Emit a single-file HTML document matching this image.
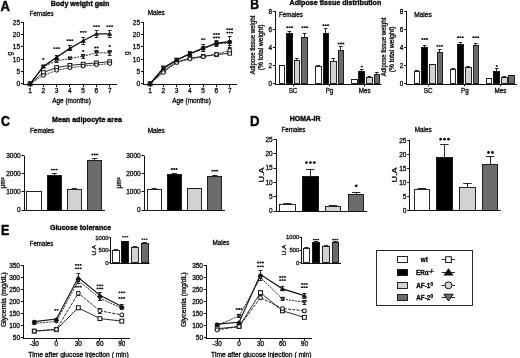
<!DOCTYPE html>
<html><head><meta charset="utf-8"><style>
html,body{margin:0;padding:0;background:#fff;}
body{width:520px;height:358px;overflow:hidden;}
svg{display:block;font-family:"Liberation Sans",sans-serif;will-change:transform;}
</style></head><body>
<svg width="520" height="358" viewBox="0 0 520 358">
<rect width="520" height="358" fill="#fff"/>
<text x="0.6" y="10.5" font-size="14.8" font-weight="bold" textLength="9.4" lengthAdjust="spacingAndGlyphs" stroke="#111" stroke-width="0.5">A</text>
<text x="250.2" y="9.3" font-size="14.8" font-weight="bold" textLength="8.8" lengthAdjust="spacingAndGlyphs" stroke="#111" stroke-width="0.5">B</text>
<text x="0.9" y="126.2" font-size="14.8" font-weight="bold" textLength="8.9" lengthAdjust="spacingAndGlyphs" stroke="#111" stroke-width="0.5">C</text>
<text x="249.9" y="126.3" font-size="14.8" font-weight="bold" textLength="9.5" lengthAdjust="spacingAndGlyphs" stroke="#111" stroke-width="0.5">D</text>
<text x="0.9" y="234.9" font-size="14.8" font-weight="bold" textLength="8.3" lengthAdjust="spacingAndGlyphs" stroke="#111" stroke-width="0.5">E</text>
<text x="50.7" y="6.1" font-size="7.5" font-weight="bold" textLength="58.6" lengthAdjust="spacingAndGlyphs" stroke="#111" stroke-width="0.4">Body weight gain</text>
<text x="289.6" y="5" font-size="7.5" font-weight="bold" textLength="91.7" lengthAdjust="spacingAndGlyphs" stroke="#111" stroke-width="0.4">Adipose tissue distribution</text>
<text x="52" y="122.3" font-size="7.5" font-weight="bold" textLength="70" lengthAdjust="spacingAndGlyphs" stroke="#111" stroke-width="0.4">Mean adipocyte area</text>
<text x="289.8" y="121.3" font-size="7.5" font-weight="bold" textLength="30.7" lengthAdjust="spacingAndGlyphs" stroke="#111" stroke-width="0.4">HOMA-IR</text>
<text x="49.9" y="229.7" font-size="7.5" font-weight="bold" textLength="61.3" lengthAdjust="spacingAndGlyphs" stroke="#111" stroke-width="0.4">Glucose tolerance</text>
<text x="29.7" y="16.07" font-size="6.3" textLength="23.9" lengthAdjust="spacingAndGlyphs" stroke="#111" stroke-width="0.3">Females</text>
<text x="147.7" y="15.37" font-size="6.3" textLength="17.1" lengthAdjust="spacingAndGlyphs" stroke="#111" stroke-width="0.3">Males</text>
<text x="279" y="16.87" font-size="6.3" textLength="23.9" lengthAdjust="spacingAndGlyphs" stroke="#111" stroke-width="0.3">Females</text>
<text x="414.2" y="16.87" font-size="6.3" textLength="17.6" lengthAdjust="spacingAndGlyphs" stroke="#111" stroke-width="0.3">Males</text>
<text x="30" y="133.27" font-size="6.3" textLength="24.3" lengthAdjust="spacingAndGlyphs" stroke="#111" stroke-width="0.3">Females</text>
<text x="147.7" y="132.67" font-size="6.3" textLength="17.1" lengthAdjust="spacingAndGlyphs" stroke="#111" stroke-width="0.3">Males</text>
<text x="281.5" y="132.17" font-size="6.3" textLength="23.9" lengthAdjust="spacingAndGlyphs" stroke="#111" stroke-width="0.3">Females</text>
<text x="414.8" y="132.37" font-size="6.3" textLength="16.8" lengthAdjust="spacingAndGlyphs" stroke="#111" stroke-width="0.3">Males</text>
<text x="29.7" y="245.87" font-size="6.3" textLength="23.6" lengthAdjust="spacingAndGlyphs" stroke="#111" stroke-width="0.3">Females</text>
<text x="212.5" y="245.47" font-size="6.3" textLength="16.9" lengthAdjust="spacingAndGlyphs" stroke="#111" stroke-width="0.3">Males</text>
<line x1="23.5" y1="22" x2="23.5" y2="84.3" stroke="#111" stroke-width="1"/>
<line x1="20.8" y1="83.5" x2="23.3" y2="83.5" stroke="#111" stroke-width="1"/>
<text x="20" y="86.14" font-size="6.5" text-anchor="end" stroke="#111" stroke-width="0.3">0</text>
<line x1="20.8" y1="71.5" x2="23.3" y2="71.5" stroke="#111" stroke-width="1"/>
<text x="20" y="73.84" font-size="6.5" text-anchor="end" stroke="#111" stroke-width="0.3">5</text>
<line x1="20.8" y1="59.5" x2="23.3" y2="59.5" stroke="#111" stroke-width="1"/>
<text x="20" y="61.54" font-size="6.5" text-anchor="end" stroke="#111" stroke-width="0.3">10</text>
<line x1="20.8" y1="46.5" x2="23.3" y2="46.5" stroke="#111" stroke-width="1"/>
<text x="20" y="49.24" font-size="6.5" text-anchor="end" stroke="#111" stroke-width="0.3">15</text>
<line x1="20.8" y1="34.5" x2="23.3" y2="34.5" stroke="#111" stroke-width="1"/>
<text x="20" y="36.94" font-size="6.5" text-anchor="end" stroke="#111" stroke-width="0.3">20</text>
<line x1="20.8" y1="22.5" x2="23.3" y2="22.5" stroke="#111" stroke-width="1"/>
<text x="20" y="24.64" font-size="6.5" text-anchor="end" stroke="#111" stroke-width="0.3">25</text>
<line x1="22.8" y1="84.5" x2="117" y2="84.5" stroke="#111" stroke-width="1"/>
<line x1="30.5" y1="83.8" x2="30.5" y2="87" stroke="#111" stroke-width="1"/>
<text x="30.1" y="92.9" font-size="6.6" text-anchor="middle" stroke="#111" stroke-width="0.3">1</text>
<line x1="43.5" y1="83.8" x2="43.5" y2="87" stroke="#111" stroke-width="1"/>
<text x="43.37" y="92.9" font-size="6.6" text-anchor="middle" stroke="#111" stroke-width="0.3">2</text>
<line x1="56.5" y1="83.8" x2="56.5" y2="87" stroke="#111" stroke-width="1"/>
<text x="56.64" y="92.9" font-size="6.6" text-anchor="middle" stroke="#111" stroke-width="0.3">3</text>
<line x1="69.5" y1="83.8" x2="69.5" y2="87" stroke="#111" stroke-width="1"/>
<text x="69.91" y="92.9" font-size="6.6" text-anchor="middle" stroke="#111" stroke-width="0.3">4</text>
<line x1="83.5" y1="83.8" x2="83.5" y2="87" stroke="#111" stroke-width="1"/>
<text x="83.18" y="92.9" font-size="6.6" text-anchor="middle" stroke="#111" stroke-width="0.3">5</text>
<line x1="96.5" y1="83.8" x2="96.5" y2="87" stroke="#111" stroke-width="1"/>
<text x="96.45" y="92.9" font-size="6.6" text-anchor="middle" stroke="#111" stroke-width="0.3">6</text>
<line x1="109.5" y1="83.8" x2="109.5" y2="87" stroke="#111" stroke-width="1"/>
<text x="109.72" y="92.9" font-size="6.6" text-anchor="middle" stroke="#111" stroke-width="0.3">7</text>
<text x="71.55" y="102.6" font-size="6.7" text-anchor="middle" textLength="38.8" lengthAdjust="spacingAndGlyphs" stroke="#111" stroke-width="0.3">Age (months)</text>
<text x="11.9" y="53.6" font-size="6.4" text-anchor="middle" transform="rotate(-90 11.9 53.6)" stroke="#111" stroke-width="0.3">g</text>
<polyline points="30.1,83.8 43.37,72.48 56.64,67.56 69.91,65.35 83.18,64.12 96.45,62.89 109.72,61.66" fill="none" stroke="#111" stroke-width="0.9"/>
<polyline points="30.1,83.8 43.37,75.44 56.64,70.27 69.91,67.81 83.18,66.09 96.45,64.86 109.72,63.63" fill="none" stroke="#111" stroke-width="0.9" stroke-dasharray="2,1"/>
<polyline points="30.1,83.8 43.37,66.58 56.64,60.92 69.91,58.46 83.18,56.25 96.45,52.8 109.72,52.8" fill="none" stroke="#111" stroke-width="0.9" stroke-dasharray="2,1"/>
<polyline points="30.1,83.8 43.37,66.58 56.64,57.23 69.91,48.38 83.18,40.75 96.45,33.86 109.72,33.86" fill="none" stroke="#111" stroke-width="1.35"/>
<line x1="43.5" y1="71.5" x2="43.5" y2="73.47" stroke="#111" stroke-width="0.8"/>
<line x1="41.47" y1="71.5" x2="45.27" y2="71.5" stroke="#111" stroke-width="0.9"/>
<line x1="41.47" y1="73.5" x2="45.27" y2="73.5" stroke="#111" stroke-width="0.9"/>
<line x1="56.5" y1="66.58" x2="56.5" y2="68.55" stroke="#111" stroke-width="0.8"/>
<line x1="54.74" y1="66.5" x2="58.54" y2="66.5" stroke="#111" stroke-width="0.9"/>
<line x1="54.74" y1="68.5" x2="58.54" y2="68.5" stroke="#111" stroke-width="0.9"/>
<line x1="69.5" y1="64.37" x2="69.5" y2="66.33" stroke="#111" stroke-width="0.8"/>
<line x1="68.01" y1="64.5" x2="71.81" y2="64.5" stroke="#111" stroke-width="0.9"/>
<line x1="68.01" y1="66.5" x2="71.81" y2="66.5" stroke="#111" stroke-width="0.9"/>
<line x1="83.5" y1="63.14" x2="83.5" y2="65.1" stroke="#111" stroke-width="0.8"/>
<line x1="81.28" y1="63.5" x2="85.08" y2="63.5" stroke="#111" stroke-width="0.9"/>
<line x1="81.28" y1="65.5" x2="85.08" y2="65.5" stroke="#111" stroke-width="0.9"/>
<line x1="96.5" y1="61.66" x2="96.5" y2="64.12" stroke="#111" stroke-width="0.8"/>
<line x1="94.55" y1="61.5" x2="98.35" y2="61.5" stroke="#111" stroke-width="0.9"/>
<line x1="94.55" y1="64.5" x2="98.35" y2="64.5" stroke="#111" stroke-width="0.9"/>
<line x1="109.5" y1="60.43" x2="109.5" y2="62.89" stroke="#111" stroke-width="0.8"/>
<line x1="107.82" y1="60.5" x2="111.62" y2="60.5" stroke="#111" stroke-width="0.9"/>
<line x1="107.82" y1="62.5" x2="111.62" y2="62.5" stroke="#111" stroke-width="0.9"/>
<line x1="43.5" y1="74.45" x2="43.5" y2="76.42" stroke="#111" stroke-width="0.8"/>
<line x1="41.47" y1="74.5" x2="45.27" y2="74.5" stroke="#111" stroke-width="0.9"/>
<line x1="41.47" y1="76.5" x2="45.27" y2="76.5" stroke="#111" stroke-width="0.9"/>
<line x1="56.5" y1="69.29" x2="56.5" y2="71.25" stroke="#111" stroke-width="0.8"/>
<line x1="54.74" y1="69.5" x2="58.54" y2="69.5" stroke="#111" stroke-width="0.9"/>
<line x1="54.74" y1="71.5" x2="58.54" y2="71.5" stroke="#111" stroke-width="0.9"/>
<line x1="69.5" y1="66.83" x2="69.5" y2="68.79" stroke="#111" stroke-width="0.8"/>
<line x1="68.01" y1="66.5" x2="71.81" y2="66.5" stroke="#111" stroke-width="0.9"/>
<line x1="68.01" y1="68.5" x2="71.81" y2="68.5" stroke="#111" stroke-width="0.9"/>
<line x1="83.5" y1="65.1" x2="83.5" y2="67.07" stroke="#111" stroke-width="0.8"/>
<line x1="81.28" y1="65.5" x2="85.08" y2="65.5" stroke="#111" stroke-width="0.9"/>
<line x1="81.28" y1="67.5" x2="85.08" y2="67.5" stroke="#111" stroke-width="0.9"/>
<line x1="96.5" y1="63.87" x2="96.5" y2="65.84" stroke="#111" stroke-width="0.8"/>
<line x1="94.55" y1="63.5" x2="98.35" y2="63.5" stroke="#111" stroke-width="0.9"/>
<line x1="94.55" y1="65.5" x2="98.35" y2="65.5" stroke="#111" stroke-width="0.9"/>
<line x1="109.5" y1="62.64" x2="109.5" y2="64.61" stroke="#111" stroke-width="0.8"/>
<line x1="107.82" y1="62.5" x2="111.62" y2="62.5" stroke="#111" stroke-width="0.9"/>
<line x1="107.82" y1="64.5" x2="111.62" y2="64.5" stroke="#111" stroke-width="0.9"/>
<line x1="43.5" y1="65.35" x2="43.5" y2="67.81" stroke="#111" stroke-width="0.8"/>
<line x1="41.47" y1="65.5" x2="45.27" y2="65.5" stroke="#111" stroke-width="0.9"/>
<line x1="41.47" y1="67.5" x2="45.27" y2="67.5" stroke="#111" stroke-width="0.9"/>
<line x1="56.5" y1="59.69" x2="56.5" y2="62.15" stroke="#111" stroke-width="0.8"/>
<line x1="54.74" y1="59.5" x2="58.54" y2="59.5" stroke="#111" stroke-width="0.9"/>
<line x1="54.74" y1="62.5" x2="58.54" y2="62.5" stroke="#111" stroke-width="0.9"/>
<line x1="69.5" y1="57.23" x2="69.5" y2="59.69" stroke="#111" stroke-width="0.8"/>
<line x1="68.01" y1="57.5" x2="71.81" y2="57.5" stroke="#111" stroke-width="0.9"/>
<line x1="68.01" y1="59.5" x2="71.81" y2="59.5" stroke="#111" stroke-width="0.9"/>
<line x1="83.5" y1="54.28" x2="83.5" y2="58.22" stroke="#111" stroke-width="0.8"/>
<line x1="81.28" y1="54.5" x2="85.08" y2="54.5" stroke="#111" stroke-width="0.9"/>
<line x1="81.28" y1="58.5" x2="85.08" y2="58.5" stroke="#111" stroke-width="0.9"/>
<line x1="96.5" y1="50.59" x2="96.5" y2="55.02" stroke="#111" stroke-width="0.8"/>
<line x1="94.55" y1="50.5" x2="98.35" y2="50.5" stroke="#111" stroke-width="0.9"/>
<line x1="94.55" y1="55.5" x2="98.35" y2="55.5" stroke="#111" stroke-width="0.9"/>
<line x1="109.5" y1="50.59" x2="109.5" y2="55.02" stroke="#111" stroke-width="0.8"/>
<line x1="107.82" y1="50.5" x2="111.62" y2="50.5" stroke="#111" stroke-width="0.9"/>
<line x1="107.82" y1="55.5" x2="111.62" y2="55.5" stroke="#111" stroke-width="0.9"/>
<line x1="43.5" y1="65.35" x2="43.5" y2="67.81" stroke="#111" stroke-width="0.8"/>
<line x1="41.47" y1="65.5" x2="45.27" y2="65.5" stroke="#111" stroke-width="0.9"/>
<line x1="41.47" y1="67.5" x2="45.27" y2="67.5" stroke="#111" stroke-width="0.9"/>
<line x1="56.5" y1="55.02" x2="56.5" y2="59.45" stroke="#111" stroke-width="0.8"/>
<line x1="54.74" y1="55.5" x2="58.54" y2="55.5" stroke="#111" stroke-width="0.9"/>
<line x1="54.74" y1="59.5" x2="58.54" y2="59.5" stroke="#111" stroke-width="0.9"/>
<line x1="69.5" y1="45.92" x2="69.5" y2="50.84" stroke="#111" stroke-width="0.8"/>
<line x1="68.01" y1="45.5" x2="71.81" y2="45.5" stroke="#111" stroke-width="0.9"/>
<line x1="68.01" y1="50.5" x2="71.81" y2="50.5" stroke="#111" stroke-width="0.9"/>
<line x1="83.5" y1="37.31" x2="83.5" y2="44.19" stroke="#111" stroke-width="0.8"/>
<line x1="81.28" y1="37.5" x2="85.08" y2="37.5" stroke="#111" stroke-width="0.9"/>
<line x1="81.28" y1="44.5" x2="85.08" y2="44.5" stroke="#111" stroke-width="0.9"/>
<line x1="96.5" y1="30.42" x2="96.5" y2="37.31" stroke="#111" stroke-width="0.8"/>
<line x1="94.55" y1="30.5" x2="98.35" y2="30.5" stroke="#111" stroke-width="0.9"/>
<line x1="94.55" y1="37.5" x2="98.35" y2="37.5" stroke="#111" stroke-width="0.9"/>
<line x1="109.5" y1="30.42" x2="109.5" y2="37.31" stroke="#111" stroke-width="0.8"/>
<line x1="107.82" y1="30.5" x2="111.62" y2="30.5" stroke="#111" stroke-width="0.9"/>
<line x1="107.82" y1="37.5" x2="111.62" y2="37.5" stroke="#111" stroke-width="0.9"/>
<rect x="28.25" y="81.95" width="3.7" height="3.7" fill="#fff" stroke="#111" stroke-width="1"/>
<rect x="41.52" y="70.63" width="3.7" height="3.7" fill="#fff" stroke="#111" stroke-width="1"/>
<rect x="54.79" y="65.71" width="3.7" height="3.7" fill="#fff" stroke="#111" stroke-width="1"/>
<rect x="68.06" y="63.5" width="3.7" height="3.7" fill="#fff" stroke="#111" stroke-width="1"/>
<rect x="81.33" y="62.27" width="3.7" height="3.7" fill="#fff" stroke="#111" stroke-width="1"/>
<rect x="94.6" y="61.04" width="3.7" height="3.7" fill="#fff" stroke="#111" stroke-width="1"/>
<rect x="107.87" y="59.81" width="3.7" height="3.7" fill="#fff" stroke="#111" stroke-width="1"/>
<circle cx="30.1" cy="83.8" r="1.85" fill="#eee" stroke="#111" stroke-width="1"/>
<circle cx="43.37" cy="75.44" r="1.85" fill="#eee" stroke="#111" stroke-width="1"/>
<circle cx="56.64" cy="70.27" r="1.85" fill="#eee" stroke="#111" stroke-width="1"/>
<circle cx="69.91" cy="67.81" r="1.85" fill="#eee" stroke="#111" stroke-width="1"/>
<circle cx="83.18" cy="66.09" r="1.85" fill="#eee" stroke="#111" stroke-width="1"/>
<circle cx="96.45" cy="64.86" r="1.85" fill="#eee" stroke="#111" stroke-width="1"/>
<circle cx="109.72" cy="63.63" r="1.85" fill="#eee" stroke="#111" stroke-width="1"/>
<path d="M28.16 82.23L32.04 82.23L30.1 85.37Z" fill="#6b6b6b" stroke="#111" stroke-width="1"/>
<path d="M41.43 65.01L45.31 65.01L43.37 68.15Z" fill="#6b6b6b" stroke="#111" stroke-width="1"/>
<path d="M54.7 59.35L58.58 59.35L56.64 62.49Z" fill="#6b6b6b" stroke="#111" stroke-width="1"/>
<path d="M67.97 56.89L71.85 56.89L69.91 60.03Z" fill="#6b6b6b" stroke="#111" stroke-width="1"/>
<path d="M81.24 54.68L85.12 54.68L83.18 57.82Z" fill="#6b6b6b" stroke="#111" stroke-width="1"/>
<path d="M94.51 51.23L98.39 51.23L96.45 54.38Z" fill="#6b6b6b" stroke="#111" stroke-width="1"/>
<path d="M107.78 51.23L111.66 51.23L109.72 54.38Z" fill="#6b6b6b" stroke="#111" stroke-width="1"/>
<path d="M30.1 82.04L32.41 85.56L27.79 85.56Z" fill="#111" stroke="#111" stroke-width="0.5"/>
<path d="M43.37 64.82L45.68 68.34L41.06 68.34Z" fill="#111" stroke="#111" stroke-width="0.5"/>
<path d="M56.64 55.47L58.95 58.99L54.33 58.99Z" fill="#111" stroke="#111" stroke-width="0.5"/>
<path d="M69.91 46.62L72.22 50.13L67.6 50.13Z" fill="#111" stroke="#111" stroke-width="0.5"/>
<path d="M83.18 38.99L85.49 42.51L80.87 42.51Z" fill="#111" stroke="#111" stroke-width="0.5"/>
<path d="M96.45 32.1L98.76 35.62L94.14 35.62Z" fill="#111" stroke="#111" stroke-width="0.5"/>
<path d="M109.72 32.1L112.03 35.62L107.41 35.62Z" fill="#111" stroke="#111" stroke-width="0.5"/>
<ellipse cx="43.37" cy="59" rx="1.12" ry="0.9" fill="#111"/>
<ellipse cx="54.29" cy="48.1" rx="1.12" ry="0.9" fill="#111"/>
<ellipse cx="56.64" cy="48.1" rx="1.12" ry="0.9" fill="#111"/>
<ellipse cx="58.99" cy="48.1" rx="1.12" ry="0.9" fill="#111"/>
<ellipse cx="67.56" cy="40.2" rx="1.12" ry="0.9" fill="#111"/>
<ellipse cx="69.91" cy="40.2" rx="1.12" ry="0.9" fill="#111"/>
<ellipse cx="72.26" cy="40.2" rx="1.12" ry="0.9" fill="#111"/>
<ellipse cx="80.83" cy="31.8" rx="1.12" ry="0.9" fill="#111"/>
<ellipse cx="83.18" cy="31.8" rx="1.12" ry="0.9" fill="#111"/>
<ellipse cx="85.53" cy="31.8" rx="1.12" ry="0.9" fill="#111"/>
<ellipse cx="94.1" cy="26.1" rx="1.12" ry="0.9" fill="#111"/>
<ellipse cx="96.45" cy="26.1" rx="1.12" ry="0.9" fill="#111"/>
<ellipse cx="98.8" cy="26.1" rx="1.12" ry="0.9" fill="#111"/>
<ellipse cx="107.37" cy="26.1" rx="1.12" ry="0.9" fill="#111"/>
<ellipse cx="109.72" cy="26.1" rx="1.12" ry="0.9" fill="#111"/>
<ellipse cx="112.07" cy="26.1" rx="1.12" ry="0.9" fill="#111"/>
<ellipse cx="83.18" cy="51" rx="1.12" ry="0.9" fill="#111"/>
<ellipse cx="95.27" cy="47.5" rx="1.12" ry="0.9" fill="#111"/>
<ellipse cx="97.62" cy="47.5" rx="1.12" ry="0.9" fill="#111"/>
<ellipse cx="109.72" cy="46" rx="1.12" ry="0.9" fill="#111"/>
<line x1="143.5" y1="22" x2="143.5" y2="84.3" stroke="#111" stroke-width="1"/>
<line x1="140.9" y1="83.5" x2="143.4" y2="83.5" stroke="#111" stroke-width="1"/>
<text x="140.1" y="86.14" font-size="6.5" text-anchor="end" stroke="#111" stroke-width="0.3">0</text>
<line x1="140.9" y1="71.5" x2="143.4" y2="71.5" stroke="#111" stroke-width="1"/>
<text x="140.1" y="73.84" font-size="6.5" text-anchor="end" stroke="#111" stroke-width="0.3">5</text>
<line x1="140.9" y1="59.5" x2="143.4" y2="59.5" stroke="#111" stroke-width="1"/>
<text x="140.1" y="61.54" font-size="6.5" text-anchor="end" stroke="#111" stroke-width="0.3">10</text>
<line x1="140.9" y1="46.5" x2="143.4" y2="46.5" stroke="#111" stroke-width="1"/>
<text x="140.1" y="49.24" font-size="6.5" text-anchor="end" stroke="#111" stroke-width="0.3">15</text>
<line x1="140.9" y1="34.5" x2="143.4" y2="34.5" stroke="#111" stroke-width="1"/>
<text x="140.1" y="36.94" font-size="6.5" text-anchor="end" stroke="#111" stroke-width="0.3">20</text>
<line x1="140.9" y1="22.5" x2="143.4" y2="22.5" stroke="#111" stroke-width="1"/>
<text x="140.1" y="24.64" font-size="6.5" text-anchor="end" stroke="#111" stroke-width="0.3">25</text>
<line x1="142.9" y1="84.5" x2="237" y2="84.5" stroke="#111" stroke-width="1"/>
<line x1="150.5" y1="83.8" x2="150.5" y2="87" stroke="#111" stroke-width="1"/>
<text x="150.1" y="92.9" font-size="6.6" text-anchor="middle" stroke="#111" stroke-width="0.3">1</text>
<line x1="163.5" y1="83.8" x2="163.5" y2="87" stroke="#111" stroke-width="1"/>
<text x="163.37" y="92.9" font-size="6.6" text-anchor="middle" stroke="#111" stroke-width="0.3">2</text>
<line x1="176.5" y1="83.8" x2="176.5" y2="87" stroke="#111" stroke-width="1"/>
<text x="176.64" y="92.9" font-size="6.6" text-anchor="middle" stroke="#111" stroke-width="0.3">3</text>
<line x1="189.5" y1="83.8" x2="189.5" y2="87" stroke="#111" stroke-width="1"/>
<text x="189.91" y="92.9" font-size="6.6" text-anchor="middle" stroke="#111" stroke-width="0.3">4</text>
<line x1="203.5" y1="83.8" x2="203.5" y2="87" stroke="#111" stroke-width="1"/>
<text x="203.18" y="92.9" font-size="6.6" text-anchor="middle" stroke="#111" stroke-width="0.3">5</text>
<line x1="216.5" y1="83.8" x2="216.5" y2="87" stroke="#111" stroke-width="1"/>
<text x="216.45" y="92.9" font-size="6.6" text-anchor="middle" stroke="#111" stroke-width="0.3">6</text>
<line x1="229.5" y1="83.8" x2="229.5" y2="87" stroke="#111" stroke-width="1"/>
<text x="229.72" y="92.9" font-size="6.6" text-anchor="middle" stroke="#111" stroke-width="0.3">7</text>
<text x="191.6" y="102.6" font-size="6.7" text-anchor="middle" textLength="38.8" lengthAdjust="spacingAndGlyphs" stroke="#111" stroke-width="0.3">Age (months)</text>
<text x="129" y="53.1" font-size="6.4" text-anchor="middle" transform="rotate(-90 129 53.1)" stroke="#111" stroke-width="0.3">g</text>
<polyline points="150.1,83.8 163.37,71.01 176.64,61.91 189.91,58.22 203.18,56.25 216.45,54.53 229.72,53.3" fill="none" stroke="#111" stroke-width="0.9"/>
<polyline points="150.1,83.8 163.37,72.48 176.64,62.64 189.91,58.95 203.18,56.74 216.45,54.28 229.72,50.34" fill="none" stroke="#111" stroke-width="0.9" stroke-dasharray="2,1"/>
<polyline points="150.1,83.8 163.37,67.56 176.64,59.69 189.91,54.28 203.18,48.87 216.45,43.7 229.72,42.96" fill="none" stroke="#111" stroke-width="0.9" stroke-dasharray="2,1"/>
<polyline points="150.1,83.8 163.37,68.3 176.64,60.18 189.91,53.54 203.18,48.13 216.45,43.21 229.72,41.73" fill="none" stroke="#111" stroke-width="1.35"/>
<line x1="163.5" y1="70.02" x2="163.5" y2="71.99" stroke="#111" stroke-width="0.8"/>
<line x1="161.47" y1="70.5" x2="165.27" y2="70.5" stroke="#111" stroke-width="0.9"/>
<line x1="161.47" y1="71.5" x2="165.27" y2="71.5" stroke="#111" stroke-width="0.9"/>
<line x1="176.5" y1="60.92" x2="176.5" y2="62.89" stroke="#111" stroke-width="0.8"/>
<line x1="174.74" y1="60.5" x2="178.54" y2="60.5" stroke="#111" stroke-width="0.9"/>
<line x1="174.74" y1="62.5" x2="178.54" y2="62.5" stroke="#111" stroke-width="0.9"/>
<line x1="189.5" y1="57.23" x2="189.5" y2="59.2" stroke="#111" stroke-width="0.8"/>
<line x1="188.01" y1="57.5" x2="191.81" y2="57.5" stroke="#111" stroke-width="0.9"/>
<line x1="188.01" y1="59.5" x2="191.81" y2="59.5" stroke="#111" stroke-width="0.9"/>
<line x1="203.5" y1="55.02" x2="203.5" y2="57.48" stroke="#111" stroke-width="0.8"/>
<line x1="201.28" y1="55.5" x2="205.08" y2="55.5" stroke="#111" stroke-width="0.9"/>
<line x1="201.28" y1="57.5" x2="205.08" y2="57.5" stroke="#111" stroke-width="0.9"/>
<line x1="216.5" y1="53.3" x2="216.5" y2="55.76" stroke="#111" stroke-width="0.8"/>
<line x1="214.55" y1="53.5" x2="218.35" y2="53.5" stroke="#111" stroke-width="0.9"/>
<line x1="214.55" y1="55.5" x2="218.35" y2="55.5" stroke="#111" stroke-width="0.9"/>
<line x1="229.5" y1="51.82" x2="229.5" y2="54.77" stroke="#111" stroke-width="0.8"/>
<line x1="227.82" y1="51.5" x2="231.62" y2="51.5" stroke="#111" stroke-width="0.9"/>
<line x1="227.82" y1="54.5" x2="231.62" y2="54.5" stroke="#111" stroke-width="0.9"/>
<line x1="163.5" y1="71.5" x2="163.5" y2="73.47" stroke="#111" stroke-width="0.8"/>
<line x1="161.47" y1="71.5" x2="165.27" y2="71.5" stroke="#111" stroke-width="0.9"/>
<line x1="161.47" y1="73.5" x2="165.27" y2="73.5" stroke="#111" stroke-width="0.9"/>
<line x1="176.5" y1="61.66" x2="176.5" y2="63.63" stroke="#111" stroke-width="0.8"/>
<line x1="174.74" y1="61.5" x2="178.54" y2="61.5" stroke="#111" stroke-width="0.9"/>
<line x1="174.74" y1="63.5" x2="178.54" y2="63.5" stroke="#111" stroke-width="0.9"/>
<line x1="189.5" y1="57.97" x2="189.5" y2="59.94" stroke="#111" stroke-width="0.8"/>
<line x1="188.01" y1="57.5" x2="191.81" y2="57.5" stroke="#111" stroke-width="0.9"/>
<line x1="188.01" y1="59.5" x2="191.81" y2="59.5" stroke="#111" stroke-width="0.9"/>
<line x1="203.5" y1="55.51" x2="203.5" y2="57.97" stroke="#111" stroke-width="0.8"/>
<line x1="201.28" y1="55.5" x2="205.08" y2="55.5" stroke="#111" stroke-width="0.9"/>
<line x1="201.28" y1="57.5" x2="205.08" y2="57.5" stroke="#111" stroke-width="0.9"/>
<line x1="216.5" y1="53.05" x2="216.5" y2="55.51" stroke="#111" stroke-width="0.8"/>
<line x1="214.55" y1="53.5" x2="218.35" y2="53.5" stroke="#111" stroke-width="0.9"/>
<line x1="214.55" y1="55.5" x2="218.35" y2="55.5" stroke="#111" stroke-width="0.9"/>
<line x1="229.5" y1="48.38" x2="229.5" y2="52.31" stroke="#111" stroke-width="0.8"/>
<line x1="227.82" y1="48.5" x2="231.62" y2="48.5" stroke="#111" stroke-width="0.9"/>
<line x1="227.82" y1="52.5" x2="231.62" y2="52.5" stroke="#111" stroke-width="0.9"/>
<line x1="163.5" y1="66.33" x2="163.5" y2="68.79" stroke="#111" stroke-width="0.8"/>
<line x1="161.47" y1="66.5" x2="165.27" y2="66.5" stroke="#111" stroke-width="0.9"/>
<line x1="161.47" y1="68.5" x2="165.27" y2="68.5" stroke="#111" stroke-width="0.9"/>
<line x1="176.5" y1="58.46" x2="176.5" y2="60.92" stroke="#111" stroke-width="0.8"/>
<line x1="174.74" y1="58.5" x2="178.54" y2="58.5" stroke="#111" stroke-width="0.9"/>
<line x1="174.74" y1="60.5" x2="178.54" y2="60.5" stroke="#111" stroke-width="0.9"/>
<line x1="189.5" y1="52.8" x2="189.5" y2="55.76" stroke="#111" stroke-width="0.8"/>
<line x1="188.01" y1="52.5" x2="191.81" y2="52.5" stroke="#111" stroke-width="0.9"/>
<line x1="188.01" y1="55.5" x2="191.81" y2="55.5" stroke="#111" stroke-width="0.9"/>
<line x1="203.5" y1="46.41" x2="203.5" y2="51.33" stroke="#111" stroke-width="0.8"/>
<line x1="201.28" y1="46.5" x2="205.08" y2="46.5" stroke="#111" stroke-width="0.9"/>
<line x1="201.28" y1="51.5" x2="205.08" y2="51.5" stroke="#111" stroke-width="0.9"/>
<line x1="216.5" y1="41.24" x2="216.5" y2="46.16" stroke="#111" stroke-width="0.8"/>
<line x1="214.55" y1="41.5" x2="218.35" y2="41.5" stroke="#111" stroke-width="0.9"/>
<line x1="214.55" y1="46.5" x2="218.35" y2="46.5" stroke="#111" stroke-width="0.9"/>
<line x1="229.5" y1="40.01" x2="229.5" y2="45.92" stroke="#111" stroke-width="0.8"/>
<line x1="227.82" y1="40.5" x2="231.62" y2="40.5" stroke="#111" stroke-width="0.9"/>
<line x1="227.82" y1="45.5" x2="231.62" y2="45.5" stroke="#111" stroke-width="0.9"/>
<line x1="163.5" y1="67.07" x2="163.5" y2="69.53" stroke="#111" stroke-width="0.8"/>
<line x1="161.47" y1="67.5" x2="165.27" y2="67.5" stroke="#111" stroke-width="0.9"/>
<line x1="161.47" y1="69.5" x2="165.27" y2="69.5" stroke="#111" stroke-width="0.9"/>
<line x1="176.5" y1="58.71" x2="176.5" y2="61.66" stroke="#111" stroke-width="0.8"/>
<line x1="174.74" y1="58.5" x2="178.54" y2="58.5" stroke="#111" stroke-width="0.9"/>
<line x1="174.74" y1="61.5" x2="178.54" y2="61.5" stroke="#111" stroke-width="0.9"/>
<line x1="189.5" y1="51.57" x2="189.5" y2="55.51" stroke="#111" stroke-width="0.8"/>
<line x1="188.01" y1="51.5" x2="191.81" y2="51.5" stroke="#111" stroke-width="0.9"/>
<line x1="188.01" y1="55.5" x2="191.81" y2="55.5" stroke="#111" stroke-width="0.9"/>
<line x1="203.5" y1="44.69" x2="203.5" y2="51.57" stroke="#111" stroke-width="0.8"/>
<line x1="201.28" y1="44.5" x2="205.08" y2="44.5" stroke="#111" stroke-width="0.9"/>
<line x1="201.28" y1="51.5" x2="205.08" y2="51.5" stroke="#111" stroke-width="0.9"/>
<line x1="216.5" y1="40.5" x2="216.5" y2="45.92" stroke="#111" stroke-width="0.8"/>
<line x1="214.55" y1="40.5" x2="218.35" y2="40.5" stroke="#111" stroke-width="0.9"/>
<line x1="214.55" y1="45.5" x2="218.35" y2="45.5" stroke="#111" stroke-width="0.9"/>
<line x1="229.5" y1="36.32" x2="229.5" y2="47.15" stroke="#111" stroke-width="0.8"/>
<line x1="227.82" y1="36.5" x2="231.62" y2="36.5" stroke="#111" stroke-width="0.9"/>
<line x1="227.82" y1="47.5" x2="231.62" y2="47.5" stroke="#111" stroke-width="0.9"/>
<rect x="148.25" y="81.95" width="3.7" height="3.7" fill="#fff" stroke="#111" stroke-width="1"/>
<rect x="161.52" y="69.16" width="3.7" height="3.7" fill="#fff" stroke="#111" stroke-width="1"/>
<rect x="174.79" y="60.06" width="3.7" height="3.7" fill="#fff" stroke="#111" stroke-width="1"/>
<rect x="188.06" y="56.37" width="3.7" height="3.7" fill="#fff" stroke="#111" stroke-width="1"/>
<rect x="201.33" y="54.4" width="3.7" height="3.7" fill="#fff" stroke="#111" stroke-width="1"/>
<rect x="214.6" y="52.68" width="3.7" height="3.7" fill="#fff" stroke="#111" stroke-width="1"/>
<rect x="227.87" y="51.45" width="3.7" height="3.7" fill="#fff" stroke="#111" stroke-width="1"/>
<circle cx="150.1" cy="83.8" r="1.85" fill="#eee" stroke="#111" stroke-width="1"/>
<circle cx="163.37" cy="72.48" r="1.85" fill="#eee" stroke="#111" stroke-width="1"/>
<circle cx="176.64" cy="62.64" r="1.85" fill="#eee" stroke="#111" stroke-width="1"/>
<circle cx="189.91" cy="58.95" r="1.85" fill="#eee" stroke="#111" stroke-width="1"/>
<circle cx="203.18" cy="56.74" r="1.85" fill="#eee" stroke="#111" stroke-width="1"/>
<circle cx="216.45" cy="54.28" r="1.85" fill="#eee" stroke="#111" stroke-width="1"/>
<circle cx="229.72" cy="50.34" r="1.85" fill="#eee" stroke="#111" stroke-width="1"/>
<path d="M148.16 82.23L152.04 82.23L150.1 85.37Z" fill="#6b6b6b" stroke="#111" stroke-width="1"/>
<path d="M161.43 65.99L165.31 65.99L163.37 69.14Z" fill="#6b6b6b" stroke="#111" stroke-width="1"/>
<path d="M174.7 58.12L178.58 58.12L176.64 61.26Z" fill="#6b6b6b" stroke="#111" stroke-width="1"/>
<path d="M187.97 52.71L191.85 52.71L189.91 55.85Z" fill="#6b6b6b" stroke="#111" stroke-width="1"/>
<path d="M201.24 47.3L205.12 47.3L203.18 50.44Z" fill="#6b6b6b" stroke="#111" stroke-width="1"/>
<path d="M214.51 42.13L218.39 42.13L216.45 45.27Z" fill="#6b6b6b" stroke="#111" stroke-width="1"/>
<path d="M227.78 41.39L231.66 41.39L229.72 44.54Z" fill="#6b6b6b" stroke="#111" stroke-width="1"/>
<path d="M150.1 82.04L152.41 85.56L147.79 85.56Z" fill="#111" stroke="#111" stroke-width="0.5"/>
<path d="M163.37 66.54L165.68 70.06L161.06 70.06Z" fill="#111" stroke="#111" stroke-width="0.5"/>
<path d="M176.64 58.43L178.95 61.94L174.33 61.94Z" fill="#111" stroke="#111" stroke-width="0.5"/>
<path d="M189.91 51.78L192.22 55.3L187.6 55.3Z" fill="#111" stroke="#111" stroke-width="0.5"/>
<path d="M203.18 46.37L205.49 49.89L200.87 49.89Z" fill="#111" stroke="#111" stroke-width="0.5"/>
<path d="M216.45 41.45L218.76 44.97L214.14 44.97Z" fill="#111" stroke="#111" stroke-width="0.5"/>
<path d="M229.72 39.98L232.03 43.49L227.41 43.49Z" fill="#111" stroke="#111" stroke-width="0.5"/>
<ellipse cx="202" cy="39.1" rx="1.12" ry="0.9" fill="#111"/>
<ellipse cx="204.36" cy="39.1" rx="1.12" ry="0.9" fill="#111"/>
<ellipse cx="214.1" cy="33.9" rx="1.12" ry="0.9" fill="#111"/>
<ellipse cx="216.45" cy="33.9" rx="1.12" ry="0.9" fill="#111"/>
<ellipse cx="218.8" cy="33.9" rx="1.12" ry="0.9" fill="#111"/>
<ellipse cx="214.1" cy="37.4" rx="1.12" ry="0.9" fill="#111"/>
<ellipse cx="216.45" cy="37.4" rx="1.12" ry="0.9" fill="#111"/>
<ellipse cx="218.8" cy="37.4" rx="1.12" ry="0.9" fill="#111"/>
<ellipse cx="227.37" cy="29.2" rx="1.12" ry="0.9" fill="#111"/>
<ellipse cx="229.72" cy="29.2" rx="1.12" ry="0.9" fill="#111"/>
<ellipse cx="232.07" cy="29.2" rx="1.12" ry="0.9" fill="#111"/>
<ellipse cx="227.37" cy="32.6" rx="1.12" ry="0.9" fill="#111"/>
<ellipse cx="229.72" cy="32.6" rx="1.12" ry="0.9" fill="#111"/>
<ellipse cx="232.07" cy="32.6" rx="1.12" ry="0.9" fill="#111"/>
<line x1="275.5" y1="11" x2="275.5" y2="84.2" stroke="#111" stroke-width="1"/>
<line x1="272.8" y1="83.5" x2="275.3" y2="83.5" stroke="#111" stroke-width="1"/>
<text x="272" y="86" font-size="6.4" text-anchor="end" stroke="#111" stroke-width="0.3">0</text>
<line x1="272.8" y1="65.5" x2="275.3" y2="65.5" stroke="#111" stroke-width="1"/>
<text x="272" y="67.9" font-size="6.4" text-anchor="end" stroke="#111" stroke-width="0.3">2</text>
<line x1="272.8" y1="47.5" x2="275.3" y2="47.5" stroke="#111" stroke-width="1"/>
<text x="272" y="49.8" font-size="6.4" text-anchor="end" stroke="#111" stroke-width="0.3">4</text>
<line x1="272.8" y1="29.5" x2="275.3" y2="29.5" stroke="#111" stroke-width="1"/>
<text x="272" y="31.7" font-size="6.4" text-anchor="end" stroke="#111" stroke-width="0.3">6</text>
<line x1="272.8" y1="11.5" x2="275.3" y2="11.5" stroke="#111" stroke-width="1"/>
<text x="272" y="13.6" font-size="6.4" text-anchor="end" stroke="#111" stroke-width="0.3">8</text>
<line x1="274.8" y1="84.5" x2="381.5" y2="84.5" stroke="#111" stroke-width="1"/>
<line x1="281.5" y1="65.87" x2="281.5" y2="65.15" stroke="#111" stroke-width="0.9"/>
<line x1="280.1" y1="65.5" x2="283.7" y2="65.5" stroke="#111" stroke-width="0.9"/>
<rect x="279.5" y="65.5" width="5" height="18" fill="#fff" stroke="#111" stroke-width="0.9"/>
<line x1="289.5" y1="33.92" x2="289.5" y2="31.21" stroke="#111" stroke-width="0.9"/>
<line x1="287.6" y1="31.5" x2="291.2" y2="31.5" stroke="#111" stroke-width="0.9"/>
<rect x="286.5" y="33.5" width="6" height="50" fill="#000" stroke="#111" stroke-width="0.9"/>
<line x1="296.5" y1="60.17" x2="296.5" y2="58.81" stroke="#111" stroke-width="0.9"/>
<line x1="295.1" y1="58.5" x2="298.7" y2="58.5" stroke="#111" stroke-width="0.9"/>
<rect x="294.5" y="60.5" width="5" height="23" fill="#d2d2d2" stroke="#111" stroke-width="0.9"/>
<line x1="304.5" y1="37.55" x2="304.5" y2="33.02" stroke="#111" stroke-width="0.9"/>
<line x1="302.7" y1="33.5" x2="306.3" y2="33.5" stroke="#111" stroke-width="0.9"/>
<rect x="301.5" y="37.5" width="6" height="46" fill="#6b6b6b" stroke="#111" stroke-width="0.9"/>
<line x1="318.5" y1="66.23" x2="318.5" y2="65.6" stroke="#111" stroke-width="0.9"/>
<line x1="316.4" y1="65.5" x2="320" y2="65.5" stroke="#111" stroke-width="0.9"/>
<rect x="315.5" y="66.5" width="6" height="17" fill="#fff" stroke="#111" stroke-width="0.9"/>
<line x1="325.5" y1="33.47" x2="325.5" y2="28.95" stroke="#111" stroke-width="0.9"/>
<line x1="323.95" y1="28.5" x2="327.55" y2="28.5" stroke="#111" stroke-width="0.9"/>
<rect x="323.5" y="33.5" width="5" height="50" fill="#000" stroke="#111" stroke-width="0.9"/>
<line x1="333.5" y1="61.08" x2="333.5" y2="58.36" stroke="#111" stroke-width="0.9"/>
<line x1="331.45" y1="58.5" x2="335.05" y2="58.5" stroke="#111" stroke-width="0.9"/>
<rect x="330.5" y="61.5" width="6" height="22" fill="#d2d2d2" stroke="#111" stroke-width="0.9"/>
<line x1="340.5" y1="50.21" x2="340.5" y2="46.6" stroke="#111" stroke-width="0.9"/>
<line x1="339" y1="46.5" x2="342.6" y2="46.5" stroke="#111" stroke-width="0.9"/>
<rect x="338.5" y="50.5" width="5" height="33" fill="#6b6b6b" stroke="#111" stroke-width="0.9"/>
<line x1="354.5" y1="79.9" x2="354.5" y2="79.63" stroke="#111" stroke-width="0.9"/>
<line x1="352.5" y1="79.5" x2="356.1" y2="79.5" stroke="#111" stroke-width="0.9"/>
<rect x="351.5" y="79.5" width="6" height="4" fill="#fff" stroke="#111" stroke-width="0.9"/>
<line x1="361.5" y1="71.03" x2="361.5" y2="69.22" stroke="#111" stroke-width="0.9"/>
<line x1="360" y1="69.5" x2="363.6" y2="69.5" stroke="#111" stroke-width="0.9"/>
<rect x="358.5" y="71.5" width="6" height="12" fill="#000" stroke="#111" stroke-width="0.9"/>
<line x1="369.5" y1="77.37" x2="369.5" y2="76.64" stroke="#111" stroke-width="0.9"/>
<line x1="367.55" y1="76.5" x2="371.15" y2="76.5" stroke="#111" stroke-width="0.9"/>
<rect x="366.5" y="77.5" width="6" height="6" fill="#d2d2d2" stroke="#111" stroke-width="0.9"/>
<line x1="376.5" y1="74.2" x2="376.5" y2="72.84" stroke="#111" stroke-width="0.9"/>
<line x1="375.1" y1="72.5" x2="378.7" y2="72.5" stroke="#111" stroke-width="0.9"/>
<rect x="374.5" y="74.5" width="5" height="9" fill="#6b6b6b" stroke="#111" stroke-width="0.9"/>
<ellipse cx="287.25" cy="27.2" rx="1.12" ry="0.9" fill="#111"/>
<ellipse cx="289.6" cy="27.2" rx="1.12" ry="0.9" fill="#111"/>
<ellipse cx="291.95" cy="27.2" rx="1.12" ry="0.9" fill="#111"/>
<ellipse cx="302.45" cy="27.2" rx="1.12" ry="0.9" fill="#111"/>
<ellipse cx="304.8" cy="27.2" rx="1.12" ry="0.9" fill="#111"/>
<ellipse cx="307.15" cy="27.2" rx="1.12" ry="0.9" fill="#111"/>
<ellipse cx="323.35" cy="25.2" rx="1.12" ry="0.9" fill="#111"/>
<ellipse cx="325.7" cy="25.2" rx="1.12" ry="0.9" fill="#111"/>
<ellipse cx="328.05" cy="25.2" rx="1.12" ry="0.9" fill="#111"/>
<ellipse cx="338.65" cy="43.5" rx="1.12" ry="0.9" fill="#111"/>
<ellipse cx="341" cy="43.5" rx="1.12" ry="0.9" fill="#111"/>
<ellipse cx="343.35" cy="43.5" rx="1.12" ry="0.9" fill="#111"/>
<ellipse cx="361.8" cy="66.6" rx="1.12" ry="0.9" fill="#111"/>
<line x1="293.5" y1="84.1" x2="293.5" y2="86.3" stroke="#111" stroke-width="1"/>
<text x="293" y="92.8" font-size="6.3" text-anchor="middle" stroke="#111" stroke-width="0.3">SC</text>
<line x1="329.5" y1="84.1" x2="329.5" y2="86.3" stroke="#111" stroke-width="1"/>
<text x="329.5" y="92.8" font-size="6.3" text-anchor="middle" stroke="#111" stroke-width="0.3">Pg</text>
<line x1="364.5" y1="84.1" x2="364.5" y2="86.3" stroke="#111" stroke-width="1"/>
<text x="364.8" y="92.8" font-size="6.3" text-anchor="middle" stroke="#111" stroke-width="0.3">Mes</text>
<text x="254.5" y="45" font-size="6.3" text-anchor="middle" textLength="58.7" lengthAdjust="spacingAndGlyphs" transform="rotate(-90 254.5 45)" stroke="#111" stroke-width="0.3">Adipose tissue weight</text>
<text x="263" y="47.4" font-size="6.3" text-anchor="middle" textLength="45.8" lengthAdjust="spacingAndGlyphs" transform="rotate(-90 263 47.4)" stroke="#111" stroke-width="0.3">(% total weight)</text>
<line x1="406.5" y1="11" x2="406.5" y2="84.2" stroke="#111" stroke-width="1"/>
<line x1="404.2" y1="83.5" x2="406.7" y2="83.5" stroke="#111" stroke-width="1"/>
<text x="403.4" y="86" font-size="6.4" text-anchor="end" stroke="#111" stroke-width="0.3">0</text>
<line x1="404.2" y1="65.5" x2="406.7" y2="65.5" stroke="#111" stroke-width="1"/>
<text x="403.4" y="67.9" font-size="6.4" text-anchor="end" stroke="#111" stroke-width="0.3">2</text>
<line x1="404.2" y1="47.5" x2="406.7" y2="47.5" stroke="#111" stroke-width="1"/>
<text x="403.4" y="49.8" font-size="6.4" text-anchor="end" stroke="#111" stroke-width="0.3">4</text>
<line x1="404.2" y1="29.5" x2="406.7" y2="29.5" stroke="#111" stroke-width="1"/>
<text x="403.4" y="31.7" font-size="6.4" text-anchor="end" stroke="#111" stroke-width="0.3">6</text>
<line x1="404.2" y1="11.5" x2="406.7" y2="11.5" stroke="#111" stroke-width="1"/>
<text x="403.4" y="13.6" font-size="6.4" text-anchor="end" stroke="#111" stroke-width="0.3">8</text>
<line x1="406.2" y1="84.5" x2="517" y2="84.5" stroke="#111" stroke-width="1"/>
<line x1="416.5" y1="71.03" x2="416.5" y2="70.58" stroke="#111" stroke-width="0.9"/>
<line x1="415.05" y1="70.5" x2="418.65" y2="70.5" stroke="#111" stroke-width="0.9"/>
<rect x="414.5" y="71.5" width="5" height="12" fill="#fff" stroke="#111" stroke-width="0.9"/>
<line x1="424.5" y1="47.95" x2="424.5" y2="45.24" stroke="#111" stroke-width="0.9"/>
<line x1="422.9" y1="45.5" x2="426.5" y2="45.5" stroke="#111" stroke-width="0.9"/>
<rect x="421.5" y="47.5" width="6" height="36" fill="#000" stroke="#111" stroke-width="0.9"/>
<line x1="432.5" y1="64.69" x2="432.5" y2="64.24" stroke="#111" stroke-width="0.9"/>
<line x1="430.4" y1="64.5" x2="434" y2="64.5" stroke="#111" stroke-width="0.9"/>
<rect x="429.5" y="64.5" width="6" height="19" fill="#d2d2d2" stroke="#111" stroke-width="0.9"/>
<line x1="439.5" y1="52.21" x2="439.5" y2="49.76" stroke="#111" stroke-width="0.9"/>
<line x1="438.15" y1="49.5" x2="441.75" y2="49.5" stroke="#111" stroke-width="0.9"/>
<rect x="437.5" y="52.5" width="5" height="31" fill="#6b6b6b" stroke="#111" stroke-width="0.9"/>
<line x1="453.5" y1="69.22" x2="453.5" y2="68.77" stroke="#111" stroke-width="0.9"/>
<line x1="451.3" y1="68.5" x2="454.9" y2="68.5" stroke="#111" stroke-width="0.9"/>
<rect x="450.5" y="69.5" width="5" height="14" fill="#fff" stroke="#111" stroke-width="0.9"/>
<line x1="460.5" y1="44.79" x2="460.5" y2="42.07" stroke="#111" stroke-width="0.9"/>
<line x1="458.6" y1="42.5" x2="462.2" y2="42.5" stroke="#111" stroke-width="0.9"/>
<rect x="457.5" y="44.5" width="6" height="39" fill="#000" stroke="#111" stroke-width="0.9"/>
<line x1="468.5" y1="67.86" x2="468.5" y2="66.05" stroke="#111" stroke-width="0.9"/>
<line x1="466.2" y1="66.5" x2="469.8" y2="66.5" stroke="#111" stroke-width="0.9"/>
<rect x="465.5" y="67.5" width="6" height="16" fill="#d2d2d2" stroke="#111" stroke-width="0.9"/>
<line x1="475.5" y1="45.69" x2="475.5" y2="43.43" stroke="#111" stroke-width="0.9"/>
<line x1="473.95" y1="43.5" x2="477.55" y2="43.5" stroke="#111" stroke-width="0.9"/>
<rect x="473.5" y="45.5" width="5" height="38" fill="#6b6b6b" stroke="#111" stroke-width="0.9"/>
<line x1="489.5" y1="78.72" x2="489.5" y2="78.45" stroke="#111" stroke-width="0.9"/>
<line x1="487.25" y1="78.5" x2="490.85" y2="78.5" stroke="#111" stroke-width="0.9"/>
<rect x="486.5" y="78.5" width="5" height="5" fill="#fff" stroke="#111" stroke-width="0.9"/>
<line x1="496.5" y1="71.03" x2="496.5" y2="68.77" stroke="#111" stroke-width="0.9"/>
<line x1="495.05" y1="68.5" x2="498.65" y2="68.5" stroke="#111" stroke-width="0.9"/>
<rect x="493.5" y="71.5" width="6" height="12" fill="#000" stroke="#111" stroke-width="0.9"/>
<line x1="504.5" y1="77.37" x2="504.5" y2="76.91" stroke="#111" stroke-width="0.9"/>
<line x1="502.4" y1="76.5" x2="506" y2="76.5" stroke="#111" stroke-width="0.9"/>
<rect x="501.5" y="77.5" width="6" height="6" fill="#d2d2d2" stroke="#111" stroke-width="0.9"/>
<line x1="511.5" y1="75.56" x2="511.5" y2="75.1" stroke="#111" stroke-width="0.9"/>
<line x1="509.9" y1="75.5" x2="513.5" y2="75.5" stroke="#111" stroke-width="0.9"/>
<rect x="508.5" y="75.5" width="6" height="8" fill="#6b6b6b" stroke="#111" stroke-width="0.9"/>
<ellipse cx="422.35" cy="39" rx="1.12" ry="0.9" fill="#111"/>
<ellipse cx="424.7" cy="39" rx="1.12" ry="0.9" fill="#111"/>
<ellipse cx="427.05" cy="39" rx="1.12" ry="0.9" fill="#111"/>
<ellipse cx="437.35" cy="45.8" rx="1.12" ry="0.9" fill="#111"/>
<ellipse cx="439.7" cy="45.8" rx="1.12" ry="0.9" fill="#111"/>
<ellipse cx="442.05" cy="45.8" rx="1.12" ry="0.9" fill="#111"/>
<ellipse cx="458.05" cy="37.2" rx="1.12" ry="0.9" fill="#111"/>
<ellipse cx="460.4" cy="37.2" rx="1.12" ry="0.9" fill="#111"/>
<ellipse cx="462.75" cy="37.2" rx="1.12" ry="0.9" fill="#111"/>
<ellipse cx="473.35" cy="37.2" rx="1.12" ry="0.9" fill="#111"/>
<ellipse cx="475.7" cy="37.2" rx="1.12" ry="0.9" fill="#111"/>
<ellipse cx="478.05" cy="37.2" rx="1.12" ry="0.9" fill="#111"/>
<ellipse cx="496.8" cy="65.9" rx="1.12" ry="0.9" fill="#111"/>
<line x1="428.5" y1="84.1" x2="428.5" y2="86.3" stroke="#111" stroke-width="1"/>
<text x="428.2" y="92.8" font-size="6.3" text-anchor="middle" stroke="#111" stroke-width="0.3">SC</text>
<line x1="464.5" y1="84.1" x2="464.5" y2="86.3" stroke="#111" stroke-width="1"/>
<text x="464.8" y="92.8" font-size="6.3" text-anchor="middle" stroke="#111" stroke-width="0.3">Pg</text>
<line x1="500.5" y1="84.1" x2="500.5" y2="86.3" stroke="#111" stroke-width="1"/>
<text x="500.4" y="92.8" font-size="6.3" text-anchor="middle" stroke="#111" stroke-width="0.3">Mes</text>
<text x="385.9" y="47" font-size="6.3" text-anchor="middle" textLength="58.7" lengthAdjust="spacingAndGlyphs" transform="rotate(-90 385.9 47)" stroke="#111" stroke-width="0.3">Adipose tissue weight</text>
<text x="394.4" y="49.4" font-size="6.3" text-anchor="middle" textLength="45.8" lengthAdjust="spacingAndGlyphs" transform="rotate(-90 394.4 49.4)" stroke="#111" stroke-width="0.3">(% total weight)</text>
<line x1="24.5" y1="155.61" x2="24.5" y2="210.5" stroke="#111" stroke-width="1"/>
<line x1="21.5" y1="210.5" x2="24" y2="210.5" stroke="#111" stroke-width="1"/>
<text x="20.7" y="212.34" font-size="6.5" text-anchor="end" stroke="#111" stroke-width="0.3">0</text>
<line x1="21.5" y1="191.5" x2="24" y2="191.5" stroke="#111" stroke-width="1"/>
<text x="20.7" y="194.31" font-size="6.5" text-anchor="end" stroke="#111" stroke-width="0.3">1000</text>
<line x1="21.5" y1="173.5" x2="24" y2="173.5" stroke="#111" stroke-width="1"/>
<text x="20.7" y="176.28" font-size="6.5" text-anchor="end" stroke="#111" stroke-width="0.3">2000</text>
<line x1="21.5" y1="155.5" x2="24" y2="155.5" stroke="#111" stroke-width="1"/>
<text x="20.7" y="158.25" font-size="6.5" text-anchor="end" stroke="#111" stroke-width="0.3">3000</text>
<line x1="23.5" y1="210.5" x2="105" y2="210.5" stroke="#111" stroke-width="1"/>
<line x1="33.5" y1="191.97" x2="33.5" y2="191.79" stroke="#111" stroke-width="0.9"/>
<line x1="31.35" y1="191.5" x2="36.55" y2="191.5" stroke="#111" stroke-width="0.9"/>
<rect x="26.5" y="191.5" width="15" height="19" fill="#fff" stroke="#111" stroke-width="0.9"/>
<line x1="54.5" y1="175.02" x2="54.5" y2="173.58" stroke="#111" stroke-width="0.9"/>
<line x1="51.65" y1="173.5" x2="56.85" y2="173.5" stroke="#111" stroke-width="0.9"/>
<rect x="47.5" y="175.5" width="14" height="35" fill="#000" stroke="#111" stroke-width="0.9"/>
<line x1="74.5" y1="189.27" x2="74.5" y2="188.81" stroke="#111" stroke-width="0.9"/>
<line x1="71.65" y1="188.5" x2="76.85" y2="188.5" stroke="#111" stroke-width="0.9"/>
<rect x="67.5" y="189.5" width="14" height="21" fill="#d2d2d2" stroke="#111" stroke-width="0.9"/>
<line x1="94.5" y1="160.6" x2="94.5" y2="158.25" stroke="#111" stroke-width="0.9"/>
<line x1="92.15" y1="158.5" x2="97.35" y2="158.5" stroke="#111" stroke-width="0.9"/>
<rect x="87.5" y="160.5" width="14" height="50" fill="#6b6b6b" stroke="#111" stroke-width="0.9"/>
<ellipse cx="51.85" cy="169.6" rx="1.12" ry="0.9" fill="#111"/>
<ellipse cx="54.2" cy="169.6" rx="1.12" ry="0.9" fill="#111"/>
<ellipse cx="56.55" cy="169.6" rx="1.12" ry="0.9" fill="#111"/>
<ellipse cx="92.45" cy="154.5" rx="1.12" ry="0.9" fill="#111"/>
<ellipse cx="94.8" cy="154.5" rx="1.12" ry="0.9" fill="#111"/>
<ellipse cx="97.15" cy="154.5" rx="1.12" ry="0.9" fill="#111"/>
<text x="5" y="183" font-size="6.3" text-anchor="middle" transform="rotate(-90 5 183)" stroke="#111" stroke-width="0.3">μm²</text>
<line x1="144.5" y1="155.61" x2="144.5" y2="210.5" stroke="#111" stroke-width="1"/>
<line x1="141.5" y1="210.5" x2="144" y2="210.5" stroke="#111" stroke-width="1"/>
<text x="140.7" y="212.34" font-size="6.5" text-anchor="end" stroke="#111" stroke-width="0.3">0</text>
<line x1="141.5" y1="191.5" x2="144" y2="191.5" stroke="#111" stroke-width="1"/>
<text x="140.7" y="194.31" font-size="6.5" text-anchor="end" stroke="#111" stroke-width="0.3">1000</text>
<line x1="141.5" y1="173.5" x2="144" y2="173.5" stroke="#111" stroke-width="1"/>
<text x="140.7" y="176.28" font-size="6.5" text-anchor="end" stroke="#111" stroke-width="0.3">2000</text>
<line x1="141.5" y1="155.5" x2="144" y2="155.5" stroke="#111" stroke-width="1"/>
<text x="140.7" y="158.25" font-size="6.5" text-anchor="end" stroke="#111" stroke-width="0.3">3000</text>
<line x1="143.5" y1="210.5" x2="225" y2="210.5" stroke="#111" stroke-width="1"/>
<line x1="154.5" y1="189.27" x2="154.5" y2="189" stroke="#111" stroke-width="0.9"/>
<line x1="151.5" y1="188.5" x2="156.7" y2="188.5" stroke="#111" stroke-width="0.9"/>
<rect x="147.5" y="189.5" width="14" height="21" fill="#fff" stroke="#111" stroke-width="0.9"/>
<line x1="174.5" y1="174.3" x2="174.5" y2="173.4" stroke="#111" stroke-width="0.9"/>
<line x1="171.6" y1="173.5" x2="176.8" y2="173.5" stroke="#111" stroke-width="0.9"/>
<rect x="167.5" y="174.5" width="14" height="36" fill="#000" stroke="#111" stroke-width="0.9"/>
<line x1="194.5" y1="188.81" x2="194.5" y2="188.54" stroke="#111" stroke-width="0.9"/>
<line x1="191.7" y1="188.5" x2="196.9" y2="188.5" stroke="#111" stroke-width="0.9"/>
<rect x="187.5" y="188.5" width="14" height="22" fill="#d2d2d2" stroke="#111" stroke-width="0.9"/>
<line x1="214.5" y1="176.82" x2="214.5" y2="175.38" stroke="#111" stroke-width="0.9"/>
<line x1="212.2" y1="175.5" x2="217.4" y2="175.5" stroke="#111" stroke-width="0.9"/>
<rect x="207.5" y="176.5" width="14" height="34" fill="#6b6b6b" stroke="#111" stroke-width="0.9"/>
<ellipse cx="171.85" cy="169" rx="1.12" ry="0.9" fill="#111"/>
<ellipse cx="174.2" cy="169" rx="1.12" ry="0.9" fill="#111"/>
<ellipse cx="176.55" cy="169" rx="1.12" ry="0.9" fill="#111"/>
<ellipse cx="212.45" cy="170.7" rx="1.12" ry="0.9" fill="#111"/>
<ellipse cx="214.8" cy="170.7" rx="1.12" ry="0.9" fill="#111"/>
<ellipse cx="217.15" cy="170.7" rx="1.12" ry="0.9" fill="#111"/>
<text x="121.2" y="183" font-size="6.3" text-anchor="middle" transform="rotate(-90 121.2 183)" stroke="#111" stroke-width="0.3">μm²</text>
<line x1="276.5" y1="139.2" x2="276.5" y2="211.5" stroke="#111" stroke-width="1"/>
<line x1="273.5" y1="211.5" x2="276" y2="211.5" stroke="#111" stroke-width="1"/>
<text x="272.7" y="213.34" font-size="6.5" text-anchor="end" stroke="#111" stroke-width="0.3">0</text>
<line x1="273.5" y1="196.5" x2="276" y2="196.5" stroke="#111" stroke-width="1"/>
<text x="272.7" y="199.04" font-size="6.5" text-anchor="end" stroke="#111" stroke-width="0.3">5</text>
<line x1="273.5" y1="182.5" x2="276" y2="182.5" stroke="#111" stroke-width="1"/>
<text x="272.7" y="184.74" font-size="6.5" text-anchor="end" stroke="#111" stroke-width="0.3">10</text>
<line x1="273.5" y1="168.5" x2="276" y2="168.5" stroke="#111" stroke-width="1"/>
<text x="272.7" y="170.44" font-size="6.5" text-anchor="end" stroke="#111" stroke-width="0.3">15</text>
<line x1="273.5" y1="153.5" x2="276" y2="153.5" stroke="#111" stroke-width="1"/>
<text x="272.7" y="156.14" font-size="6.5" text-anchor="end" stroke="#111" stroke-width="0.3">20</text>
<line x1="273.5" y1="139.5" x2="276" y2="139.5" stroke="#111" stroke-width="1"/>
<text x="272.7" y="141.84" font-size="6.5" text-anchor="end" stroke="#111" stroke-width="0.3">25</text>
<line x1="275.5" y1="211.5" x2="367" y2="211.5" stroke="#111" stroke-width="1"/>
<line x1="287.5" y1="204.42" x2="287.5" y2="203.85" stroke="#111" stroke-width="0.9"/>
<line x1="283.2" y1="203.5" x2="291.6" y2="203.5" stroke="#111" stroke-width="0.9"/>
<rect x="279.5" y="204.5" width="16" height="7" fill="#fff" stroke="#111" stroke-width="0.9"/>
<line x1="310.5" y1="176.68" x2="310.5" y2="169.53" stroke="#111" stroke-width="0.9"/>
<line x1="306" y1="169.5" x2="314.4" y2="169.5" stroke="#111" stroke-width="0.9"/>
<rect x="302.5" y="176.5" width="16" height="35" fill="#000" stroke="#111" stroke-width="0.9"/>
<line x1="333.5" y1="206.14" x2="333.5" y2="205.42" stroke="#111" stroke-width="0.9"/>
<line x1="328.85" y1="205.5" x2="337.25" y2="205.5" stroke="#111" stroke-width="0.9"/>
<rect x="325.5" y="206.5" width="15" height="5" fill="#d2d2d2" stroke="#111" stroke-width="0.9"/>
<line x1="356.5" y1="194.7" x2="356.5" y2="192.7" stroke="#111" stroke-width="0.9"/>
<line x1="351.95" y1="192.5" x2="360.35" y2="192.5" stroke="#111" stroke-width="0.9"/>
<rect x="348.5" y="194.5" width="15" height="17" fill="#6b6b6b" stroke="#111" stroke-width="0.9"/>
<ellipse cx="306.5" cy="162.6" rx="1.4" ry="1.4" fill="#111"/>
<ellipse cx="310.4" cy="162.6" rx="1.4" ry="1.4" fill="#111"/>
<ellipse cx="314.3" cy="162.6" rx="1.4" ry="1.4" fill="#111"/>
<ellipse cx="356.2" cy="185.8" rx="1.4" ry="1.4" fill="#111"/>
<text x="263.6" y="175" font-size="7" text-anchor="middle" textLength="15" lengthAdjust="spacingAndGlyphs" transform="rotate(-90 263.6 175)" stroke="#111" stroke-width="0.3">U.A</text>
<line x1="409.5" y1="139.9" x2="409.5" y2="210.7" stroke="#111" stroke-width="1"/>
<line x1="407.2" y1="210.5" x2="409.7" y2="210.5" stroke="#111" stroke-width="1"/>
<text x="406.4" y="212.54" font-size="6.5" text-anchor="end" stroke="#111" stroke-width="0.3">0</text>
<line x1="407.2" y1="196.5" x2="409.7" y2="196.5" stroke="#111" stroke-width="1"/>
<text x="406.4" y="198.54" font-size="6.5" text-anchor="end" stroke="#111" stroke-width="0.3">5</text>
<line x1="407.2" y1="182.5" x2="409.7" y2="182.5" stroke="#111" stroke-width="1"/>
<text x="406.4" y="184.54" font-size="6.5" text-anchor="end" stroke="#111" stroke-width="0.3">10</text>
<line x1="407.2" y1="168.5" x2="409.7" y2="168.5" stroke="#111" stroke-width="1"/>
<text x="406.4" y="170.54" font-size="6.5" text-anchor="end" stroke="#111" stroke-width="0.3">15</text>
<line x1="407.2" y1="154.5" x2="409.7" y2="154.5" stroke="#111" stroke-width="1"/>
<text x="406.4" y="156.54" font-size="6.5" text-anchor="end" stroke="#111" stroke-width="0.3">20</text>
<line x1="407.2" y1="140.5" x2="409.7" y2="140.5" stroke="#111" stroke-width="1"/>
<text x="406.4" y="142.54" font-size="6.5" text-anchor="end" stroke="#111" stroke-width="0.3">25</text>
<line x1="409.2" y1="210.5" x2="500.6" y2="210.5" stroke="#111" stroke-width="1"/>
<line x1="421.5" y1="189.2" x2="421.5" y2="188.36" stroke="#111" stroke-width="0.9"/>
<line x1="417.6" y1="188.5" x2="426" y2="188.5" stroke="#111" stroke-width="0.9"/>
<rect x="414.5" y="189.5" width="15" height="21" fill="#fff" stroke="#111" stroke-width="0.9"/>
<line x1="444.5" y1="157" x2="444.5" y2="144.96" stroke="#111" stroke-width="0.9"/>
<line x1="440.2" y1="144.5" x2="448.6" y2="144.5" stroke="#111" stroke-width="0.9"/>
<rect x="436.5" y="157.5" width="16" height="53" fill="#000" stroke="#111" stroke-width="0.9"/>
<line x1="467.5" y1="187.8" x2="467.5" y2="183.6" stroke="#111" stroke-width="0.9"/>
<line x1="463.25" y1="183.5" x2="471.65" y2="183.5" stroke="#111" stroke-width="0.9"/>
<rect x="459.5" y="187.5" width="16" height="23" fill="#d2d2d2" stroke="#111" stroke-width="0.9"/>
<line x1="490.5" y1="164" x2="490.5" y2="156.5" stroke="#111" stroke-width="0.9"/>
<line x1="485.85" y1="156.5" x2="494.25" y2="156.5" stroke="#111" stroke-width="0.9"/>
<rect x="482.5" y="164.5" width="15" height="46" fill="#6b6b6b" stroke="#111" stroke-width="0.9"/>
<ellipse cx="440.7" cy="139.2" rx="1.4" ry="1.4" fill="#111"/>
<ellipse cx="444.6" cy="139.2" rx="1.4" ry="1.4" fill="#111"/>
<ellipse cx="448.5" cy="139.2" rx="1.4" ry="1.4" fill="#111"/>
<ellipse cx="488.55" cy="152.5" rx="1.4" ry="1.4" fill="#111"/>
<ellipse cx="492.45" cy="152.5" rx="1.4" ry="1.4" fill="#111"/>
<text x="396.8" y="175" font-size="7" text-anchor="middle" textLength="15" lengthAdjust="spacingAndGlyphs" transform="rotate(-90 396.8 175)" stroke="#111" stroke-width="0.3">U.A</text>
<line x1="23.5" y1="265.12" x2="23.5" y2="338.4" stroke="#111" stroke-width="1"/>
<line x1="20.8" y1="337.5" x2="23.3" y2="337.5" stroke="#111" stroke-width="1"/>
<text x="20" y="340.24" font-size="6.5" text-anchor="end" stroke="#111" stroke-width="0.3">50</text>
<line x1="20.8" y1="325.5" x2="23.3" y2="325.5" stroke="#111" stroke-width="1"/>
<text x="20" y="328.16" font-size="6.5" text-anchor="end" stroke="#111" stroke-width="0.3">100</text>
<line x1="20.8" y1="313.5" x2="23.3" y2="313.5" stroke="#111" stroke-width="1"/>
<text x="20" y="316.08" font-size="6.5" text-anchor="end" stroke="#111" stroke-width="0.3">150</text>
<line x1="20.8" y1="301.5" x2="23.3" y2="301.5" stroke="#111" stroke-width="1"/>
<text x="20" y="304" font-size="6.5" text-anchor="end" stroke="#111" stroke-width="0.3">200</text>
<line x1="20.8" y1="289.5" x2="23.3" y2="289.5" stroke="#111" stroke-width="1"/>
<text x="20" y="291.92" font-size="6.5" text-anchor="end" stroke="#111" stroke-width="0.3">250</text>
<line x1="20.8" y1="277.5" x2="23.3" y2="277.5" stroke="#111" stroke-width="1"/>
<text x="20" y="279.84" font-size="6.5" text-anchor="end" stroke="#111" stroke-width="0.3">300</text>
<line x1="20.8" y1="265.5" x2="23.3" y2="265.5" stroke="#111" stroke-width="1"/>
<text x="20" y="267.76" font-size="6.5" text-anchor="end" stroke="#111" stroke-width="0.3">350</text>
<line x1="22.8" y1="338.5" x2="130" y2="338.5" stroke="#111" stroke-width="1"/>
<line x1="34.5" y1="338.7" x2="34.5" y2="340.9" stroke="#111" stroke-width="1"/>
<text x="34.3" y="346.2" font-size="6.4" text-anchor="middle" stroke="#111" stroke-width="0.3">-30</text>
<line x1="56.5" y1="338.7" x2="56.5" y2="340.9" stroke="#111" stroke-width="1"/>
<text x="56.4" y="346.2" font-size="6.4" text-anchor="middle" stroke="#111" stroke-width="0.3">0</text>
<line x1="78.5" y1="338.7" x2="78.5" y2="340.9" stroke="#111" stroke-width="1"/>
<text x="78.3" y="346.2" font-size="6.4" text-anchor="middle" stroke="#111" stroke-width="0.3">30</text>
<line x1="99.5" y1="338.7" x2="99.5" y2="340.9" stroke="#111" stroke-width="1"/>
<text x="99.9" y="346.2" font-size="6.4" text-anchor="middle" stroke="#111" stroke-width="0.3">60</text>
<line x1="121.5" y1="338.7" x2="121.5" y2="340.9" stroke="#111" stroke-width="1"/>
<text x="121.8" y="346.2" font-size="6.4" text-anchor="middle" stroke="#111" stroke-width="0.3">90</text>
<text x="78.55" y="356.5" font-size="6.5" text-anchor="middle" textLength="100.5" lengthAdjust="spacingAndGlyphs" stroke="#111" stroke-width="0.3">Time after glucose injection ( min)</text>
<text x="5.7" y="299.6" font-size="6.3" text-anchor="middle" textLength="55" lengthAdjust="spacingAndGlyphs" transform="rotate(-90 5.7 299.6)" stroke="#111" stroke-width="0.3">Glycemia (mg/dL)</text>
<polyline points="34.3,331.14 56.4,329.44 78.3,307.8 99.9,318.57 121.8,321.11" fill="none" stroke="#111" stroke-width="0.9"/>
<polyline points="34.3,331.14 56.4,329.44 78.3,293.2 99.9,310.84 121.8,314.8" fill="none" stroke="#111" stroke-width="0.9" stroke-dasharray="3,1.2"/>
<polyline points="34.3,323.31 56.4,321.59 78.3,280.64 99.9,298.28 121.8,308.3" fill="none" stroke="#111" stroke-width="0.9" stroke-dasharray="2,1"/>
<polyline points="34.3,321.59 56.4,319.1 78.3,277.6 99.9,295.21 121.8,306.49" fill="none" stroke="#111" stroke-width="1.1"/>
<line x1="34.5" y1="330.41" x2="34.5" y2="331.86" stroke="#111" stroke-width="0.8"/>
<line x1="32.4" y1="330.5" x2="36.2" y2="330.5" stroke="#111" stroke-width="0.9"/>
<line x1="32.4" y1="331.5" x2="36.2" y2="331.5" stroke="#111" stroke-width="0.9"/>
<line x1="56.5" y1="328.72" x2="56.5" y2="330.17" stroke="#111" stroke-width="0.8"/>
<line x1="54.5" y1="328.5" x2="58.3" y2="328.5" stroke="#111" stroke-width="0.9"/>
<line x1="54.5" y1="330.5" x2="58.3" y2="330.5" stroke="#111" stroke-width="0.9"/>
<line x1="78.5" y1="306.59" x2="78.5" y2="309" stroke="#111" stroke-width="0.8"/>
<line x1="76.4" y1="306.5" x2="80.2" y2="306.5" stroke="#111" stroke-width="0.9"/>
<line x1="76.4" y1="309.5" x2="80.2" y2="309.5" stroke="#111" stroke-width="0.9"/>
<line x1="99.5" y1="317.36" x2="99.5" y2="319.78" stroke="#111" stroke-width="0.8"/>
<line x1="98" y1="317.5" x2="101.8" y2="317.5" stroke="#111" stroke-width="0.9"/>
<line x1="98" y1="319.5" x2="101.8" y2="319.5" stroke="#111" stroke-width="0.9"/>
<line x1="121.5" y1="320.14" x2="121.5" y2="322.08" stroke="#111" stroke-width="0.8"/>
<line x1="119.9" y1="320.5" x2="123.7" y2="320.5" stroke="#111" stroke-width="0.9"/>
<line x1="119.9" y1="322.5" x2="123.7" y2="322.5" stroke="#111" stroke-width="0.9"/>
<line x1="34.5" y1="330.41" x2="34.5" y2="331.86" stroke="#111" stroke-width="0.8"/>
<line x1="32.4" y1="330.5" x2="36.2" y2="330.5" stroke="#111" stroke-width="0.9"/>
<line x1="32.4" y1="331.5" x2="36.2" y2="331.5" stroke="#111" stroke-width="0.9"/>
<line x1="56.5" y1="328.72" x2="56.5" y2="330.17" stroke="#111" stroke-width="0.8"/>
<line x1="54.5" y1="328.5" x2="58.3" y2="328.5" stroke="#111" stroke-width="0.9"/>
<line x1="54.5" y1="330.5" x2="58.3" y2="330.5" stroke="#111" stroke-width="0.9"/>
<line x1="78.5" y1="291.27" x2="78.5" y2="295.14" stroke="#111" stroke-width="0.8"/>
<line x1="76.4" y1="291.5" x2="80.2" y2="291.5" stroke="#111" stroke-width="0.9"/>
<line x1="76.4" y1="295.5" x2="80.2" y2="295.5" stroke="#111" stroke-width="0.9"/>
<line x1="99.5" y1="308.42" x2="99.5" y2="313.26" stroke="#111" stroke-width="0.8"/>
<line x1="98" y1="308.5" x2="101.8" y2="308.5" stroke="#111" stroke-width="0.9"/>
<line x1="98" y1="313.5" x2="101.8" y2="313.5" stroke="#111" stroke-width="0.9"/>
<line x1="121.5" y1="313.35" x2="121.5" y2="316.25" stroke="#111" stroke-width="0.8"/>
<line x1="119.9" y1="313.5" x2="123.7" y2="313.5" stroke="#111" stroke-width="0.9"/>
<line x1="119.9" y1="316.5" x2="123.7" y2="316.5" stroke="#111" stroke-width="0.9"/>
<line x1="34.5" y1="322.34" x2="34.5" y2="324.27" stroke="#111" stroke-width="0.8"/>
<line x1="32.4" y1="322.5" x2="36.2" y2="322.5" stroke="#111" stroke-width="0.9"/>
<line x1="32.4" y1="324.5" x2="36.2" y2="324.5" stroke="#111" stroke-width="0.9"/>
<line x1="56.5" y1="320.63" x2="56.5" y2="322.56" stroke="#111" stroke-width="0.8"/>
<line x1="54.5" y1="320.5" x2="58.3" y2="320.5" stroke="#111" stroke-width="0.9"/>
<line x1="54.5" y1="322.5" x2="58.3" y2="322.5" stroke="#111" stroke-width="0.9"/>
<line x1="78.5" y1="278.22" x2="78.5" y2="283.06" stroke="#111" stroke-width="0.8"/>
<line x1="76.4" y1="278.5" x2="80.2" y2="278.5" stroke="#111" stroke-width="0.9"/>
<line x1="76.4" y1="283.5" x2="80.2" y2="283.5" stroke="#111" stroke-width="0.9"/>
<line x1="99.5" y1="296.34" x2="99.5" y2="300.21" stroke="#111" stroke-width="0.8"/>
<line x1="98" y1="296.5" x2="101.8" y2="296.5" stroke="#111" stroke-width="0.9"/>
<line x1="98" y1="300.5" x2="101.8" y2="300.5" stroke="#111" stroke-width="0.9"/>
<line x1="121.5" y1="306.85" x2="121.5" y2="309.75" stroke="#111" stroke-width="0.8"/>
<line x1="119.9" y1="306.5" x2="123.7" y2="306.5" stroke="#111" stroke-width="0.9"/>
<line x1="119.9" y1="309.5" x2="123.7" y2="309.5" stroke="#111" stroke-width="0.9"/>
<line x1="34.5" y1="320.63" x2="34.5" y2="322.56" stroke="#111" stroke-width="0.8"/>
<line x1="32.4" y1="320.5" x2="36.2" y2="320.5" stroke="#111" stroke-width="0.9"/>
<line x1="32.4" y1="322.5" x2="36.2" y2="322.5" stroke="#111" stroke-width="0.9"/>
<line x1="56.5" y1="318.14" x2="56.5" y2="320.07" stroke="#111" stroke-width="0.8"/>
<line x1="54.5" y1="318.5" x2="58.3" y2="318.5" stroke="#111" stroke-width="0.9"/>
<line x1="54.5" y1="320.5" x2="58.3" y2="320.5" stroke="#111" stroke-width="0.9"/>
<line x1="78.5" y1="273.25" x2="78.5" y2="281.95" stroke="#111" stroke-width="0.8"/>
<line x1="76.4" y1="273.5" x2="80.2" y2="273.5" stroke="#111" stroke-width="0.9"/>
<line x1="76.4" y1="281.5" x2="80.2" y2="281.5" stroke="#111" stroke-width="0.9"/>
<line x1="99.5" y1="292.79" x2="99.5" y2="297.63" stroke="#111" stroke-width="0.8"/>
<line x1="98" y1="292.5" x2="101.8" y2="292.5" stroke="#111" stroke-width="0.9"/>
<line x1="98" y1="297.5" x2="101.8" y2="297.5" stroke="#111" stroke-width="0.9"/>
<line x1="121.5" y1="304.8" x2="121.5" y2="308.18" stroke="#111" stroke-width="0.8"/>
<line x1="119.9" y1="304.5" x2="123.7" y2="304.5" stroke="#111" stroke-width="0.9"/>
<line x1="119.9" y1="308.5" x2="123.7" y2="308.5" stroke="#111" stroke-width="0.9"/>
<rect x="32.35" y="329.19" width="3.9" height="3.9" fill="#fff" stroke="#111" stroke-width="1"/>
<rect x="54.45" y="327.49" width="3.9" height="3.9" fill="#fff" stroke="#111" stroke-width="1"/>
<rect x="76.35" y="305.85" width="3.9" height="3.9" fill="#fff" stroke="#111" stroke-width="1"/>
<rect x="97.95" y="316.62" width="3.9" height="3.9" fill="#fff" stroke="#111" stroke-width="1"/>
<rect x="119.85" y="319.16" width="3.9" height="3.9" fill="#fff" stroke="#111" stroke-width="1"/>
<circle cx="34.3" cy="331.14" r="1.95" fill="#eee" stroke="#111" stroke-width="1"/>
<circle cx="56.4" cy="329.44" r="1.95" fill="#eee" stroke="#111" stroke-width="1"/>
<circle cx="78.3" cy="293.2" r="1.95" fill="#eee" stroke="#111" stroke-width="1"/>
<circle cx="99.9" cy="310.84" r="1.95" fill="#eee" stroke="#111" stroke-width="1"/>
<circle cx="121.8" cy="314.8" r="1.95" fill="#eee" stroke="#111" stroke-width="1"/>
<path d="M32.25 321.65L36.35 321.65L34.3 324.96Z" fill="#6b6b6b" stroke="#111" stroke-width="1"/>
<path d="M54.35 319.93L58.45 319.93L56.4 323.25Z" fill="#6b6b6b" stroke="#111" stroke-width="1"/>
<path d="M76.25 278.98L80.35 278.98L78.3 282.3Z" fill="#6b6b6b" stroke="#111" stroke-width="1"/>
<path d="M97.85 296.62L101.95 296.62L99.9 299.94Z" fill="#6b6b6b" stroke="#111" stroke-width="1"/>
<path d="M119.75 306.65L123.85 306.65L121.8 309.96Z" fill="#6b6b6b" stroke="#111" stroke-width="1"/>
<path d="M34.3 319.74L36.74 323.44L31.86 323.44Z" fill="#111" stroke="#111" stroke-width="0.5"/>
<path d="M56.4 317.25L58.84 320.96L53.96 320.96Z" fill="#111" stroke="#111" stroke-width="0.5"/>
<path d="M78.3 275.74L80.74 279.45L75.86 279.45Z" fill="#111" stroke="#111" stroke-width="0.5"/>
<path d="M99.9 293.36L102.34 297.06L97.46 297.06Z" fill="#111" stroke="#111" stroke-width="0.5"/>
<path d="M121.8 304.64L124.24 308.34L119.36 308.34Z" fill="#111" stroke="#111" stroke-width="0.5"/>
<ellipse cx="55.23" cy="309.8" rx="1.12" ry="0.9" fill="#111"/>
<ellipse cx="57.57" cy="309.8" rx="1.12" ry="0.9" fill="#111"/>
<ellipse cx="75.95" cy="264.8" rx="1.12" ry="0.9" fill="#111"/>
<ellipse cx="78.3" cy="264.8" rx="1.12" ry="0.9" fill="#111"/>
<ellipse cx="80.65" cy="264.8" rx="1.12" ry="0.9" fill="#111"/>
<ellipse cx="75.95" cy="268.3" rx="1.12" ry="0.9" fill="#111"/>
<ellipse cx="78.3" cy="268.3" rx="1.12" ry="0.9" fill="#111"/>
<ellipse cx="80.65" cy="268.3" rx="1.12" ry="0.9" fill="#111"/>
<ellipse cx="75.95" cy="286.7" rx="1.12" ry="0.9" fill="#111"/>
<ellipse cx="78.3" cy="286.7" rx="1.12" ry="0.9" fill="#111"/>
<ellipse cx="80.65" cy="286.7" rx="1.12" ry="0.9" fill="#111"/>
<ellipse cx="97.55" cy="285.3" rx="1.12" ry="0.9" fill="#111"/>
<ellipse cx="99.9" cy="285.3" rx="1.12" ry="0.9" fill="#111"/>
<ellipse cx="102.25" cy="285.3" rx="1.12" ry="0.9" fill="#111"/>
<ellipse cx="97.55" cy="288.4" rx="1.12" ry="0.9" fill="#111"/>
<ellipse cx="99.9" cy="288.4" rx="1.12" ry="0.9" fill="#111"/>
<ellipse cx="102.25" cy="288.4" rx="1.12" ry="0.9" fill="#111"/>
<ellipse cx="119.45" cy="292.3" rx="1.12" ry="0.9" fill="#111"/>
<ellipse cx="121.8" cy="292.3" rx="1.12" ry="0.9" fill="#111"/>
<ellipse cx="124.15" cy="292.3" rx="1.12" ry="0.9" fill="#111"/>
<ellipse cx="119.45" cy="297.9" rx="1.12" ry="0.9" fill="#111"/>
<ellipse cx="121.8" cy="297.9" rx="1.12" ry="0.9" fill="#111"/>
<ellipse cx="124.15" cy="297.9" rx="1.12" ry="0.9" fill="#111"/>
<line x1="110.5" y1="237.4" x2="110.5" y2="263.4" stroke="#111" stroke-width="1"/>
<line x1="108.9" y1="262.5" x2="110.6" y2="262.5" stroke="#111" stroke-width="1"/>
<text x="108.6" y="265.06" font-size="6" text-anchor="end" stroke="#111" stroke-width="0.3">0</text>
<line x1="108.9" y1="250.5" x2="110.6" y2="250.5" stroke="#111" stroke-width="1"/>
<text x="108.6" y="252.46" font-size="6" text-anchor="end" stroke="#111" stroke-width="0.3">500</text>
<line x1="108.9" y1="237.5" x2="110.6" y2="237.5" stroke="#111" stroke-width="1"/>
<text x="108.6" y="239.86" font-size="6" text-anchor="end" stroke="#111" stroke-width="0.3">1000</text>
<line x1="110.1" y1="263.5" x2="149.6" y2="263.5" stroke="#111" stroke-width="1"/>
<rect x="112.5" y="250.5" width="7" height="12" fill="#fff" stroke="#111" stroke-width="0.9"/>
<line x1="113.6" y1="249.5" x2="118" y2="249.5" stroke="#111" stroke-width="0.9"/>
<rect x="121.5" y="241.5" width="7" height="21" fill="#000" stroke="#111" stroke-width="0.9"/>
<line x1="123.15" y1="241.5" x2="127.55" y2="241.5" stroke="#111" stroke-width="0.9"/>
<rect x="131.5" y="247.5" width="7" height="15" fill="#d2d2d2" stroke="#111" stroke-width="0.9"/>
<line x1="132.7" y1="246.5" x2="137.1" y2="246.5" stroke="#111" stroke-width="0.9"/>
<rect x="141.5" y="243.5" width="7" height="19" fill="#6b6b6b" stroke="#111" stroke-width="0.9"/>
<line x1="142.3" y1="242.5" x2="146.7" y2="242.5" stroke="#111" stroke-width="0.9"/>
<ellipse cx="123.16" cy="236.7" rx="1.02" ry="0.82" fill="#111"/>
<ellipse cx="125.3" cy="236.7" rx="1.02" ry="0.82" fill="#111"/>
<ellipse cx="127.44" cy="236.7" rx="1.02" ry="0.82" fill="#111"/>
<ellipse cx="142.36" cy="239.3" rx="1.02" ry="0.82" fill="#111"/>
<ellipse cx="144.5" cy="239.3" rx="1.02" ry="0.82" fill="#111"/>
<ellipse cx="146.64" cy="239.3" rx="1.02" ry="0.82" fill="#111"/>
<text x="95.6" y="250.3" font-size="6.2" text-anchor="middle" transform="rotate(-90 95.6 250.3)" stroke="#111" stroke-width="0.3">U.A</text>
<line x1="206.5" y1="265.12" x2="206.5" y2="338.4" stroke="#111" stroke-width="1"/>
<line x1="203.8" y1="337.5" x2="206.3" y2="337.5" stroke="#111" stroke-width="1"/>
<text x="203" y="340.24" font-size="6.5" text-anchor="end" stroke="#111" stroke-width="0.3">50</text>
<line x1="203.8" y1="325.5" x2="206.3" y2="325.5" stroke="#111" stroke-width="1"/>
<text x="203" y="328.16" font-size="6.5" text-anchor="end" stroke="#111" stroke-width="0.3">100</text>
<line x1="203.8" y1="313.5" x2="206.3" y2="313.5" stroke="#111" stroke-width="1"/>
<text x="203" y="316.08" font-size="6.5" text-anchor="end" stroke="#111" stroke-width="0.3">150</text>
<line x1="203.8" y1="301.5" x2="206.3" y2="301.5" stroke="#111" stroke-width="1"/>
<text x="203" y="304" font-size="6.5" text-anchor="end" stroke="#111" stroke-width="0.3">200</text>
<line x1="203.8" y1="289.5" x2="206.3" y2="289.5" stroke="#111" stroke-width="1"/>
<text x="203" y="291.92" font-size="6.5" text-anchor="end" stroke="#111" stroke-width="0.3">250</text>
<line x1="203.8" y1="277.5" x2="206.3" y2="277.5" stroke="#111" stroke-width="1"/>
<text x="203" y="279.84" font-size="6.5" text-anchor="end" stroke="#111" stroke-width="0.3">300</text>
<line x1="203.8" y1="265.5" x2="206.3" y2="265.5" stroke="#111" stroke-width="1"/>
<text x="203" y="267.76" font-size="6.5" text-anchor="end" stroke="#111" stroke-width="0.3">350</text>
<line x1="205.8" y1="338.5" x2="312" y2="338.5" stroke="#111" stroke-width="1"/>
<line x1="217.5" y1="338.7" x2="217.5" y2="340.9" stroke="#111" stroke-width="1"/>
<text x="217.2" y="346.2" font-size="6.4" text-anchor="middle" stroke="#111" stroke-width="0.3">-30</text>
<line x1="239.5" y1="338.7" x2="239.5" y2="340.9" stroke="#111" stroke-width="1"/>
<text x="239.1" y="346.2" font-size="6.4" text-anchor="middle" stroke="#111" stroke-width="0.3">0</text>
<line x1="260.5" y1="338.7" x2="260.5" y2="340.9" stroke="#111" stroke-width="1"/>
<text x="260.5" y="346.2" font-size="6.4" text-anchor="middle" stroke="#111" stroke-width="0.3">30</text>
<line x1="282.5" y1="338.7" x2="282.5" y2="340.9" stroke="#111" stroke-width="1"/>
<text x="282.5" y="346.2" font-size="6.4" text-anchor="middle" stroke="#111" stroke-width="0.3">60</text>
<line x1="304.5" y1="338.7" x2="304.5" y2="340.9" stroke="#111" stroke-width="1"/>
<text x="304.4" y="346.2" font-size="6.4" text-anchor="middle" stroke="#111" stroke-width="0.3">90</text>
<text x="261.3" y="356.5" font-size="6.5" text-anchor="middle" textLength="100.5" lengthAdjust="spacingAndGlyphs" stroke="#111" stroke-width="0.3">Time after glucose injection ( min)</text>
<text x="186.2" y="299.6" font-size="6.3" text-anchor="middle" textLength="55" lengthAdjust="spacingAndGlyphs" transform="rotate(-90 186.2 299.6)" stroke="#111" stroke-width="0.3">Glycemia (mg/dL)</text>
<polyline points="217.2,328.72 239.1,326.54 260.5,292.72 282.5,310.84 304.4,317.36" fill="none" stroke="#111" stroke-width="0.9"/>
<polyline points="217.2,329.93 239.1,326.59 260.5,297.7 282.5,308.52 304.4,310.84" fill="none" stroke="#111" stroke-width="0.9" stroke-dasharray="3,1.2"/>
<polyline points="217.2,325.34 239.1,316.01 260.5,277.6 282.5,299 304.4,302.19" fill="none" stroke="#111" stroke-width="0.9" stroke-dasharray="2,1"/>
<polyline points="217.2,324.13 239.1,322.29 260.5,274.6 282.5,288.86 304.4,295.62" fill="none" stroke="#111" stroke-width="1.2"/>
<line x1="217.5" y1="327.99" x2="217.5" y2="329.44" stroke="#111" stroke-width="0.8"/>
<line x1="215.3" y1="327.5" x2="219.1" y2="327.5" stroke="#111" stroke-width="0.9"/>
<line x1="215.3" y1="329.5" x2="219.1" y2="329.5" stroke="#111" stroke-width="0.9"/>
<line x1="239.5" y1="325.82" x2="239.5" y2="327.27" stroke="#111" stroke-width="0.8"/>
<line x1="237.2" y1="325.5" x2="241" y2="325.5" stroke="#111" stroke-width="0.9"/>
<line x1="237.2" y1="327.5" x2="241" y2="327.5" stroke="#111" stroke-width="0.9"/>
<line x1="260.5" y1="290.79" x2="260.5" y2="294.65" stroke="#111" stroke-width="0.8"/>
<line x1="258.6" y1="290.5" x2="262.4" y2="290.5" stroke="#111" stroke-width="0.9"/>
<line x1="258.6" y1="294.5" x2="262.4" y2="294.5" stroke="#111" stroke-width="0.9"/>
<line x1="282.5" y1="309.63" x2="282.5" y2="312.05" stroke="#111" stroke-width="0.8"/>
<line x1="280.6" y1="309.5" x2="284.4" y2="309.5" stroke="#111" stroke-width="0.9"/>
<line x1="280.6" y1="312.5" x2="284.4" y2="312.5" stroke="#111" stroke-width="0.9"/>
<line x1="304.5" y1="316.4" x2="304.5" y2="318.33" stroke="#111" stroke-width="0.8"/>
<line x1="302.5" y1="316.5" x2="306.3" y2="316.5" stroke="#111" stroke-width="0.9"/>
<line x1="302.5" y1="318.5" x2="306.3" y2="318.5" stroke="#111" stroke-width="0.9"/>
<line x1="217.5" y1="329.2" x2="217.5" y2="330.65" stroke="#111" stroke-width="0.8"/>
<line x1="215.3" y1="329.5" x2="219.1" y2="329.5" stroke="#111" stroke-width="0.9"/>
<line x1="215.3" y1="330.5" x2="219.1" y2="330.5" stroke="#111" stroke-width="0.9"/>
<line x1="239.5" y1="325.87" x2="239.5" y2="327.32" stroke="#111" stroke-width="0.8"/>
<line x1="237.2" y1="325.5" x2="241" y2="325.5" stroke="#111" stroke-width="0.9"/>
<line x1="237.2" y1="327.5" x2="241" y2="327.5" stroke="#111" stroke-width="0.9"/>
<line x1="260.5" y1="295.76" x2="260.5" y2="299.63" stroke="#111" stroke-width="0.8"/>
<line x1="258.6" y1="295.5" x2="262.4" y2="295.5" stroke="#111" stroke-width="0.9"/>
<line x1="258.6" y1="299.5" x2="262.4" y2="299.5" stroke="#111" stroke-width="0.9"/>
<line x1="282.5" y1="307.31" x2="282.5" y2="309.73" stroke="#111" stroke-width="0.8"/>
<line x1="280.6" y1="307.5" x2="284.4" y2="307.5" stroke="#111" stroke-width="0.9"/>
<line x1="280.6" y1="309.5" x2="284.4" y2="309.5" stroke="#111" stroke-width="0.9"/>
<line x1="304.5" y1="309.63" x2="304.5" y2="312.05" stroke="#111" stroke-width="0.8"/>
<line x1="302.5" y1="309.5" x2="306.3" y2="309.5" stroke="#111" stroke-width="0.9"/>
<line x1="302.5" y1="312.5" x2="306.3" y2="312.5" stroke="#111" stroke-width="0.9"/>
<line x1="217.5" y1="324.37" x2="217.5" y2="326.3" stroke="#111" stroke-width="0.8"/>
<line x1="215.3" y1="324.5" x2="219.1" y2="324.5" stroke="#111" stroke-width="0.9"/>
<line x1="215.3" y1="326.5" x2="219.1" y2="326.5" stroke="#111" stroke-width="0.9"/>
<line x1="239.5" y1="314.08" x2="239.5" y2="317.94" stroke="#111" stroke-width="0.8"/>
<line x1="237.2" y1="314.5" x2="241" y2="314.5" stroke="#111" stroke-width="0.9"/>
<line x1="237.2" y1="317.5" x2="241" y2="317.5" stroke="#111" stroke-width="0.9"/>
<line x1="260.5" y1="274.7" x2="260.5" y2="280.5" stroke="#111" stroke-width="0.8"/>
<line x1="258.6" y1="274.5" x2="262.4" y2="274.5" stroke="#111" stroke-width="0.9"/>
<line x1="258.6" y1="280.5" x2="262.4" y2="280.5" stroke="#111" stroke-width="0.9"/>
<line x1="282.5" y1="297.07" x2="282.5" y2="300.94" stroke="#111" stroke-width="0.8"/>
<line x1="280.6" y1="297.5" x2="284.4" y2="297.5" stroke="#111" stroke-width="0.9"/>
<line x1="280.6" y1="300.5" x2="284.4" y2="300.5" stroke="#111" stroke-width="0.9"/>
<line x1="304.5" y1="300.26" x2="304.5" y2="304.12" stroke="#111" stroke-width="0.8"/>
<line x1="302.5" y1="300.5" x2="306.3" y2="300.5" stroke="#111" stroke-width="0.9"/>
<line x1="302.5" y1="304.5" x2="306.3" y2="304.5" stroke="#111" stroke-width="0.9"/>
<line x1="217.5" y1="323.16" x2="217.5" y2="325.1" stroke="#111" stroke-width="0.8"/>
<line x1="215.3" y1="323.5" x2="219.1" y2="323.5" stroke="#111" stroke-width="0.9"/>
<line x1="215.3" y1="325.5" x2="219.1" y2="325.5" stroke="#111" stroke-width="0.9"/>
<line x1="239.5" y1="321.08" x2="239.5" y2="323.5" stroke="#111" stroke-width="0.8"/>
<line x1="237.2" y1="321.5" x2="241" y2="321.5" stroke="#111" stroke-width="0.9"/>
<line x1="237.2" y1="323.5" x2="241" y2="323.5" stroke="#111" stroke-width="0.9"/>
<line x1="260.5" y1="270.98" x2="260.5" y2="278.22" stroke="#111" stroke-width="0.8"/>
<line x1="258.6" y1="270.5" x2="262.4" y2="270.5" stroke="#111" stroke-width="0.9"/>
<line x1="258.6" y1="278.5" x2="262.4" y2="278.5" stroke="#111" stroke-width="0.9"/>
<line x1="282.5" y1="286.92" x2="282.5" y2="290.79" stroke="#111" stroke-width="0.8"/>
<line x1="280.6" y1="286.5" x2="284.4" y2="286.5" stroke="#111" stroke-width="0.9"/>
<line x1="280.6" y1="290.5" x2="284.4" y2="290.5" stroke="#111" stroke-width="0.9"/>
<line x1="304.5" y1="293.2" x2="304.5" y2="298.04" stroke="#111" stroke-width="0.8"/>
<line x1="302.5" y1="293.5" x2="306.3" y2="293.5" stroke="#111" stroke-width="0.9"/>
<line x1="302.5" y1="298.5" x2="306.3" y2="298.5" stroke="#111" stroke-width="0.9"/>
<rect x="215.25" y="326.77" width="3.9" height="3.9" fill="#fff" stroke="#111" stroke-width="1"/>
<rect x="237.15" y="324.59" width="3.9" height="3.9" fill="#fff" stroke="#111" stroke-width="1"/>
<rect x="258.55" y="290.77" width="3.9" height="3.9" fill="#fff" stroke="#111" stroke-width="1"/>
<rect x="280.55" y="308.89" width="3.9" height="3.9" fill="#fff" stroke="#111" stroke-width="1"/>
<rect x="302.45" y="315.41" width="3.9" height="3.9" fill="#fff" stroke="#111" stroke-width="1"/>
<circle cx="217.2" cy="329.93" r="1.95" fill="#eee" stroke="#111" stroke-width="1"/>
<circle cx="239.1" cy="326.59" r="1.95" fill="#eee" stroke="#111" stroke-width="1"/>
<circle cx="260.5" cy="297.7" r="1.95" fill="#eee" stroke="#111" stroke-width="1"/>
<circle cx="282.5" cy="308.52" r="1.95" fill="#eee" stroke="#111" stroke-width="1"/>
<circle cx="304.4" cy="310.84" r="1.95" fill="#eee" stroke="#111" stroke-width="1"/>
<path d="M215.15 323.68L219.25 323.68L217.2 326.99Z" fill="#6b6b6b" stroke="#111" stroke-width="1"/>
<path d="M237.05 314.35L241.15 314.35L239.1 317.67Z" fill="#6b6b6b" stroke="#111" stroke-width="1"/>
<path d="M258.45 275.94L262.55 275.94L260.5 279.25Z" fill="#6b6b6b" stroke="#111" stroke-width="1"/>
<path d="M280.45 297.34L284.55 297.34L282.5 300.66Z" fill="#6b6b6b" stroke="#111" stroke-width="1"/>
<path d="M302.35 300.53L306.45 300.53L304.4 303.85Z" fill="#6b6b6b" stroke="#111" stroke-width="1"/>
<path d="M217.2 322.28L219.64 325.98L214.76 325.98Z" fill="#111" stroke="#111" stroke-width="0.5"/>
<path d="M239.1 320.44L241.54 324.15L236.66 324.15Z" fill="#111" stroke="#111" stroke-width="0.5"/>
<path d="M260.5 272.75L262.94 276.45L258.06 276.45Z" fill="#111" stroke="#111" stroke-width="0.5"/>
<path d="M282.5 287L284.94 290.71L280.06 290.71Z" fill="#111" stroke="#111" stroke-width="0.5"/>
<path d="M304.4 293.77L306.84 297.47L301.96 297.47Z" fill="#111" stroke="#111" stroke-width="0.5"/>
<ellipse cx="236.75" cy="309" rx="1.12" ry="0.9" fill="#111"/>
<ellipse cx="239.1" cy="309" rx="1.12" ry="0.9" fill="#111"/>
<ellipse cx="241.45" cy="309" rx="1.12" ry="0.9" fill="#111"/>
<ellipse cx="258.15" cy="262.5" rx="1.12" ry="0.9" fill="#111"/>
<ellipse cx="260.5" cy="262.5" rx="1.12" ry="0.9" fill="#111"/>
<ellipse cx="262.85" cy="262.5" rx="1.12" ry="0.9" fill="#111"/>
<ellipse cx="258.15" cy="266.3" rx="1.12" ry="0.9" fill="#111"/>
<ellipse cx="260.5" cy="266.3" rx="1.12" ry="0.9" fill="#111"/>
<ellipse cx="262.85" cy="266.3" rx="1.12" ry="0.9" fill="#111"/>
<ellipse cx="280.15" cy="276.9" rx="1.12" ry="0.9" fill="#111"/>
<ellipse cx="282.5" cy="276.9" rx="1.12" ry="0.9" fill="#111"/>
<ellipse cx="284.85" cy="276.9" rx="1.12" ry="0.9" fill="#111"/>
<ellipse cx="280.15" cy="280.1" rx="1.12" ry="0.9" fill="#111"/>
<ellipse cx="282.5" cy="280.1" rx="1.12" ry="0.9" fill="#111"/>
<ellipse cx="284.85" cy="280.1" rx="1.12" ry="0.9" fill="#111"/>
<ellipse cx="302.05" cy="283.9" rx="1.12" ry="0.9" fill="#111"/>
<ellipse cx="304.4" cy="283.9" rx="1.12" ry="0.9" fill="#111"/>
<ellipse cx="306.75" cy="283.9" rx="1.12" ry="0.9" fill="#111"/>
<ellipse cx="302.05" cy="287.2" rx="1.12" ry="0.9" fill="#111"/>
<ellipse cx="304.4" cy="287.2" rx="1.12" ry="0.9" fill="#111"/>
<ellipse cx="306.75" cy="287.2" rx="1.12" ry="0.9" fill="#111"/>
<line x1="301.5" y1="236.9" x2="301.5" y2="263.3" stroke="#111" stroke-width="1"/>
<line x1="299.7" y1="262.5" x2="301.4" y2="262.5" stroke="#111" stroke-width="1"/>
<text x="299.4" y="264.96" font-size="6" text-anchor="end" stroke="#111" stroke-width="0.3">0</text>
<line x1="299.7" y1="250.5" x2="301.4" y2="250.5" stroke="#111" stroke-width="1"/>
<text x="299.4" y="252.16" font-size="6" text-anchor="end" stroke="#111" stroke-width="0.3">500</text>
<line x1="299.7" y1="237.5" x2="301.4" y2="237.5" stroke="#111" stroke-width="1"/>
<text x="299.4" y="239.36" font-size="6" text-anchor="end" stroke="#111" stroke-width="0.3">1000</text>
<line x1="300.9" y1="263.5" x2="341" y2="263.5" stroke="#111" stroke-width="1"/>
<rect x="303.5" y="248.5" width="6" height="14" fill="#fff" stroke="#111" stroke-width="0.9"/>
<line x1="304.3" y1="247.5" x2="308.7" y2="247.5" stroke="#111" stroke-width="0.9"/>
<rect x="312.5" y="242.5" width="7" height="20" fill="#000" stroke="#111" stroke-width="0.9"/>
<line x1="313.85" y1="241.5" x2="318.25" y2="241.5" stroke="#111" stroke-width="0.9"/>
<rect x="322.5" y="246.5" width="7" height="16" fill="#d2d2d2" stroke="#111" stroke-width="0.9"/>
<line x1="323.95" y1="245.5" x2="328.35" y2="245.5" stroke="#111" stroke-width="0.9"/>
<rect x="332.5" y="242.5" width="6" height="20" fill="#6b6b6b" stroke="#111" stroke-width="0.9"/>
<line x1="333.25" y1="241.5" x2="337.65" y2="241.5" stroke="#111" stroke-width="0.9"/>
<ellipse cx="313.86" cy="239.6" rx="1.02" ry="0.82" fill="#111"/>
<ellipse cx="316" cy="239.6" rx="1.02" ry="0.82" fill="#111"/>
<ellipse cx="318.14" cy="239.6" rx="1.02" ry="0.82" fill="#111"/>
<ellipse cx="333.06" cy="239.6" rx="1.02" ry="0.82" fill="#111"/>
<ellipse cx="335.2" cy="239.6" rx="1.02" ry="0.82" fill="#111"/>
<ellipse cx="337.34" cy="239.6" rx="1.02" ry="0.82" fill="#111"/>
<text x="286.4" y="250" font-size="6.2" text-anchor="middle" transform="rotate(-90 286.4 250)" stroke="#111" stroke-width="0.3">U.A</text>
<rect x="376.5" y="250.5" width="96" height="55" fill="none" stroke="#111" stroke-width="0.9"/>
<rect x="397.5" y="256.5" width="10" height="6" fill="#fff" stroke="#111" stroke-width="0.9"/>
<line x1="441.7" y1="259.5" x2="455" y2="259.5" stroke="#111" stroke-width="0.9"/>
<rect x="445.65" y="256.75" width="5.7" height="5.7" fill="#fff" stroke="#111" stroke-width="1"/>
<rect x="397.5" y="269.5" width="10" height="6" fill="#000" stroke="#111" stroke-width="0.9"/>
<line x1="441.7" y1="272.5" x2="455" y2="272.5" stroke="#111" stroke-width="0.9"/>
<path d="M448.5 268.52L453.2 275.28L443.8 275.28Z" fill="#111" stroke="#111" stroke-width="0.5"/>
<rect x="397.5" y="282.5" width="10" height="6" fill="#d2d2d2" stroke="#111" stroke-width="0.9"/>
<line x1="441.7" y1="285.5" x2="455" y2="285.5" stroke="#111" stroke-width="0.9"/>
<circle cx="448.5" cy="285.3" r="3.5" fill="#d2d2d2" stroke="#111" stroke-width="1"/>
<rect x="397.5" y="294.5" width="10" height="6" fill="#6b6b6b" stroke="#111" stroke-width="0.9"/>
<line x1="441.7" y1="297.5" x2="455" y2="297.5" stroke="#111" stroke-width="0.9"/>
<path d="M443.8 294.22L453.2 294.22L448.5 300.98Z" fill="#6b6b6b" stroke="#111" stroke-width="1"/>
<text x="424.3" y="261.9" font-size="6.3" font-weight="bold" text-anchor="middle" stroke="#111" stroke-width="0.3">wt</text>
<text x="416" y="274.6" font-size="6.3" font-weight="bold" textLength="12.6" lengthAdjust="spacingAndGlyphs" stroke="#111" stroke-width="0.3">ERα</text>
<text x="428.9" y="272.6" font-size="5" font-weight="bold" textLength="5.4" lengthAdjust="spacingAndGlyphs" stroke="#111" stroke-width="0.3">-/-</text>
<text x="416.2" y="287.7" font-size="6.5" font-weight="bold" textLength="14.2" lengthAdjust="spacingAndGlyphs" stroke="#111" stroke-width="0.3">AF-1</text>
<text x="430.6" y="285.5" font-size="4.6" font-weight="bold" stroke="#111" stroke-width="0.3">0</text>
<text x="416.2" y="299.7" font-size="6.5" font-weight="bold" textLength="14.2" lengthAdjust="spacingAndGlyphs" stroke="#111" stroke-width="0.3">AF-2</text>
<text x="430.6" y="297.5" font-size="4.6" font-weight="bold" stroke="#111" stroke-width="0.3">0</text>
</svg>
</body></html>
